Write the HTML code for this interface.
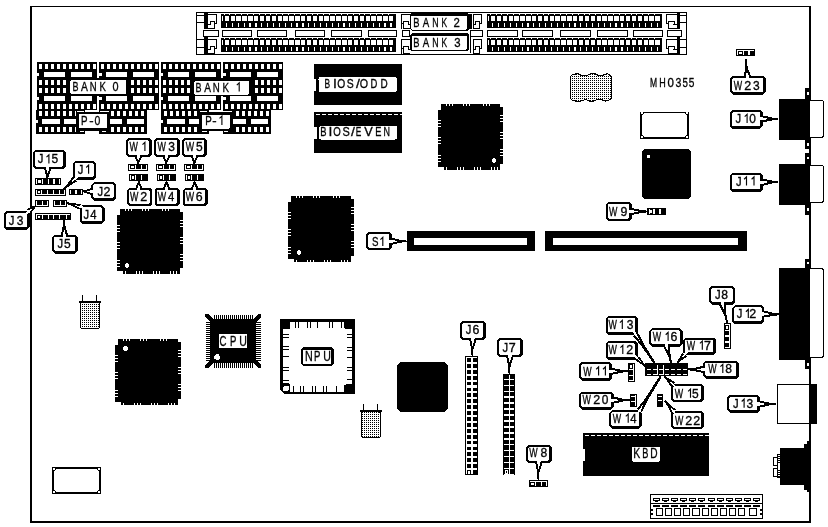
<!DOCTYPE html>
<html><head><meta charset="utf-8"><title>MH0355</title>
<style>
html,body{margin:0;padding:0;background:#fff;}
svg{display:block;font-family:"Liberation Sans",sans-serif;}
</style></head><body>
<svg width="828" height="527" viewBox="0 0 828 527" shape-rendering="crispEdges">
<defs><pattern id="dots" x="0" y="0" width="2" height="2" patternUnits="userSpaceOnUse"><rect x="0" y="0" width="1" height="1" fill="#000"/></pattern></defs>
<rect x="0" y="0" width="828" height="527" fill="#fff"/>
<rect x="30" y="6" width="781" height="1" fill="#000"/>
<rect x="30" y="6" width="2" height="517" fill="#000"/>
<rect x="809" y="6" width="2" height="517" fill="#000"/>
<rect x="30" y="521" width="781" height="2" fill="#000"/>
<rect x="196" y="12" width="491" height="43" fill="#000"/>
<rect x="197" y="13" width="489" height="41" fill="#fff"/>
<rect x="221.2" y="14" width="175.2" height="14" fill="#000"/>
<rect x="222" y="16" width="1" height="5" fill="#fff"/>
<rect x="224.7" y="16" width="4.4" height="5" fill="#fff"/>
<rect x="226" y="23.2" width="1.2" height="3.6" fill="#fff"/>
<rect x="223.5" y="14" width="1" height="1" fill="#fff"/>
<rect x="230.57" y="16" width="4.4" height="5" fill="#fff"/>
<rect x="231.87" y="23.2" width="1.2" height="3.6" fill="#fff"/>
<rect x="229.37" y="14" width="1" height="1" fill="#fff"/>
<rect x="236.44" y="16" width="4.4" height="5" fill="#fff"/>
<rect x="237.74" y="23.2" width="1.2" height="3.6" fill="#fff"/>
<rect x="235.24" y="14" width="1" height="1" fill="#fff"/>
<rect x="242.31" y="16" width="4.4" height="5" fill="#fff"/>
<rect x="243.61" y="23.2" width="1.2" height="3.6" fill="#fff"/>
<rect x="241.11" y="14" width="1" height="1" fill="#fff"/>
<rect x="248.18" y="16" width="4.4" height="5" fill="#fff"/>
<rect x="249.48" y="23.2" width="1.2" height="3.6" fill="#fff"/>
<rect x="246.98" y="14" width="1" height="1" fill="#fff"/>
<rect x="254.05" y="16" width="4.4" height="5" fill="#fff"/>
<rect x="255.35" y="23.2" width="1.2" height="3.6" fill="#fff"/>
<rect x="252.85" y="14" width="1" height="1" fill="#fff"/>
<rect x="259.92" y="16" width="4.4" height="5" fill="#fff"/>
<rect x="261.22" y="23.2" width="1.2" height="3.6" fill="#fff"/>
<rect x="258.72" y="14" width="1" height="1" fill="#fff"/>
<rect x="265.79" y="16" width="4.4" height="5" fill="#fff"/>
<rect x="267.09" y="23.2" width="1.2" height="3.6" fill="#fff"/>
<rect x="264.59" y="14" width="1" height="1" fill="#fff"/>
<rect x="271.66" y="16" width="4.4" height="5" fill="#fff"/>
<rect x="272.96" y="23.2" width="1.2" height="3.6" fill="#fff"/>
<rect x="270.46" y="14" width="1" height="1" fill="#fff"/>
<rect x="277.53" y="16" width="4.4" height="5" fill="#fff"/>
<rect x="278.83" y="23.2" width="1.2" height="3.6" fill="#fff"/>
<rect x="276.33" y="14" width="1" height="1" fill="#fff"/>
<rect x="283.4" y="16" width="4.4" height="5" fill="#fff"/>
<rect x="284.7" y="23.2" width="1.2" height="3.6" fill="#fff"/>
<rect x="282.2" y="14" width="1" height="1" fill="#fff"/>
<rect x="289.27" y="16" width="4.4" height="5" fill="#fff"/>
<rect x="290.57" y="23.2" width="1.2" height="3.6" fill="#fff"/>
<rect x="288.07" y="14" width="1" height="1" fill="#fff"/>
<rect x="295.14" y="16" width="4.4" height="5" fill="#fff"/>
<rect x="296.44" y="23.2" width="1.2" height="3.6" fill="#fff"/>
<rect x="293.94" y="14" width="1" height="1" fill="#fff"/>
<rect x="301.01" y="16" width="4.4" height="5" fill="#fff"/>
<rect x="302.31" y="23.2" width="1.2" height="3.6" fill="#fff"/>
<rect x="299.81" y="14" width="1" height="1" fill="#fff"/>
<rect x="306.88" y="16" width="4.4" height="5" fill="#fff"/>
<rect x="308.18" y="23.2" width="1.2" height="3.6" fill="#fff"/>
<rect x="305.68" y="14" width="1" height="1" fill="#fff"/>
<rect x="312.75" y="16" width="4.4" height="5" fill="#fff"/>
<rect x="314.05" y="23.2" width="1.2" height="3.6" fill="#fff"/>
<rect x="311.55" y="14" width="1" height="1" fill="#fff"/>
<rect x="318.62" y="16" width="4.4" height="5" fill="#fff"/>
<rect x="319.92" y="23.2" width="1.2" height="3.6" fill="#fff"/>
<rect x="317.42" y="14" width="1" height="1" fill="#fff"/>
<rect x="324.49" y="16" width="4.4" height="5" fill="#fff"/>
<rect x="325.79" y="23.2" width="1.2" height="3.6" fill="#fff"/>
<rect x="323.29" y="14" width="1" height="1" fill="#fff"/>
<rect x="330.36" y="16" width="4.4" height="5" fill="#fff"/>
<rect x="331.66" y="23.2" width="1.2" height="3.6" fill="#fff"/>
<rect x="329.16" y="14" width="1" height="1" fill="#fff"/>
<rect x="336.23" y="16" width="4.4" height="5" fill="#fff"/>
<rect x="337.53" y="23.2" width="1.2" height="3.6" fill="#fff"/>
<rect x="335.03" y="14" width="1" height="1" fill="#fff"/>
<rect x="342.1" y="16" width="4.4" height="5" fill="#fff"/>
<rect x="343.4" y="23.2" width="1.2" height="3.6" fill="#fff"/>
<rect x="340.9" y="14" width="1" height="1" fill="#fff"/>
<rect x="347.97" y="16" width="4.4" height="5" fill="#fff"/>
<rect x="349.27" y="23.2" width="1.2" height="3.6" fill="#fff"/>
<rect x="346.77" y="14" width="1" height="1" fill="#fff"/>
<rect x="353.84" y="16" width="4.4" height="5" fill="#fff"/>
<rect x="355.14" y="23.2" width="1.2" height="3.6" fill="#fff"/>
<rect x="352.64" y="14" width="1" height="1" fill="#fff"/>
<rect x="359.71" y="16" width="4.4" height="5" fill="#fff"/>
<rect x="361.01" y="23.2" width="1.2" height="3.6" fill="#fff"/>
<rect x="358.51" y="14" width="1" height="1" fill="#fff"/>
<rect x="365.58" y="16" width="4.4" height="5" fill="#fff"/>
<rect x="366.88" y="23.2" width="1.2" height="3.6" fill="#fff"/>
<rect x="364.38" y="14" width="1" height="1" fill="#fff"/>
<rect x="371.45" y="16" width="4.4" height="5" fill="#fff"/>
<rect x="372.75" y="23.2" width="1.2" height="3.6" fill="#fff"/>
<rect x="370.25" y="14" width="1" height="1" fill="#fff"/>
<rect x="377.32" y="16" width="4.4" height="5" fill="#fff"/>
<rect x="378.62" y="23.2" width="1.2" height="3.6" fill="#fff"/>
<rect x="376.12" y="14" width="1" height="1" fill="#fff"/>
<rect x="383.19" y="16" width="4.4" height="5" fill="#fff"/>
<rect x="384.49" y="23.2" width="1.2" height="3.6" fill="#fff"/>
<rect x="381.99" y="14" width="1" height="1" fill="#fff"/>
<rect x="389.06" y="16" width="4.4" height="5" fill="#fff"/>
<rect x="390.36" y="23.2" width="1.2" height="3.6" fill="#fff"/>
<rect x="387.86" y="14" width="1" height="1" fill="#fff"/>
<rect x="221.2" y="38" width="175.2" height="14" fill="#000"/>
<rect x="222" y="40" width="1" height="5" fill="#fff"/>
<rect x="224.7" y="40" width="4.4" height="5" fill="#fff"/>
<rect x="226" y="47.2" width="1.2" height="3.6" fill="#fff"/>
<rect x="223.5" y="38" width="1" height="1" fill="#fff"/>
<rect x="230.57" y="40" width="4.4" height="5" fill="#fff"/>
<rect x="231.87" y="47.2" width="1.2" height="3.6" fill="#fff"/>
<rect x="229.37" y="38" width="1" height="1" fill="#fff"/>
<rect x="236.44" y="40" width="4.4" height="5" fill="#fff"/>
<rect x="237.74" y="47.2" width="1.2" height="3.6" fill="#fff"/>
<rect x="235.24" y="38" width="1" height="1" fill="#fff"/>
<rect x="242.31" y="40" width="4.4" height="5" fill="#fff"/>
<rect x="243.61" y="47.2" width="1.2" height="3.6" fill="#fff"/>
<rect x="241.11" y="38" width="1" height="1" fill="#fff"/>
<rect x="248.18" y="40" width="4.4" height="5" fill="#fff"/>
<rect x="249.48" y="47.2" width="1.2" height="3.6" fill="#fff"/>
<rect x="246.98" y="38" width="1" height="1" fill="#fff"/>
<rect x="254.05" y="40" width="4.4" height="5" fill="#fff"/>
<rect x="255.35" y="47.2" width="1.2" height="3.6" fill="#fff"/>
<rect x="252.85" y="38" width="1" height="1" fill="#fff"/>
<rect x="259.92" y="40" width="4.4" height="5" fill="#fff"/>
<rect x="261.22" y="47.2" width="1.2" height="3.6" fill="#fff"/>
<rect x="258.72" y="38" width="1" height="1" fill="#fff"/>
<rect x="265.79" y="40" width="4.4" height="5" fill="#fff"/>
<rect x="267.09" y="47.2" width="1.2" height="3.6" fill="#fff"/>
<rect x="264.59" y="38" width="1" height="1" fill="#fff"/>
<rect x="271.66" y="40" width="4.4" height="5" fill="#fff"/>
<rect x="272.96" y="47.2" width="1.2" height="3.6" fill="#fff"/>
<rect x="270.46" y="38" width="1" height="1" fill="#fff"/>
<rect x="277.53" y="40" width="4.4" height="5" fill="#fff"/>
<rect x="278.83" y="47.2" width="1.2" height="3.6" fill="#fff"/>
<rect x="276.33" y="38" width="1" height="1" fill="#fff"/>
<rect x="283.4" y="40" width="4.4" height="5" fill="#fff"/>
<rect x="284.7" y="47.2" width="1.2" height="3.6" fill="#fff"/>
<rect x="282.2" y="38" width="1" height="1" fill="#fff"/>
<rect x="289.27" y="40" width="4.4" height="5" fill="#fff"/>
<rect x="290.57" y="47.2" width="1.2" height="3.6" fill="#fff"/>
<rect x="288.07" y="38" width="1" height="1" fill="#fff"/>
<rect x="295.14" y="40" width="4.4" height="5" fill="#fff"/>
<rect x="296.44" y="47.2" width="1.2" height="3.6" fill="#fff"/>
<rect x="293.94" y="38" width="1" height="1" fill="#fff"/>
<rect x="301.01" y="40" width="4.4" height="5" fill="#fff"/>
<rect x="302.31" y="47.2" width="1.2" height="3.6" fill="#fff"/>
<rect x="299.81" y="38" width="1" height="1" fill="#fff"/>
<rect x="306.88" y="40" width="4.4" height="5" fill="#fff"/>
<rect x="308.18" y="47.2" width="1.2" height="3.6" fill="#fff"/>
<rect x="305.68" y="38" width="1" height="1" fill="#fff"/>
<rect x="312.75" y="40" width="4.4" height="5" fill="#fff"/>
<rect x="314.05" y="47.2" width="1.2" height="3.6" fill="#fff"/>
<rect x="311.55" y="38" width="1" height="1" fill="#fff"/>
<rect x="318.62" y="40" width="4.4" height="5" fill="#fff"/>
<rect x="319.92" y="47.2" width="1.2" height="3.6" fill="#fff"/>
<rect x="317.42" y="38" width="1" height="1" fill="#fff"/>
<rect x="324.49" y="40" width="4.4" height="5" fill="#fff"/>
<rect x="325.79" y="47.2" width="1.2" height="3.6" fill="#fff"/>
<rect x="323.29" y="38" width="1" height="1" fill="#fff"/>
<rect x="330.36" y="40" width="4.4" height="5" fill="#fff"/>
<rect x="331.66" y="47.2" width="1.2" height="3.6" fill="#fff"/>
<rect x="329.16" y="38" width="1" height="1" fill="#fff"/>
<rect x="336.23" y="40" width="4.4" height="5" fill="#fff"/>
<rect x="337.53" y="47.2" width="1.2" height="3.6" fill="#fff"/>
<rect x="335.03" y="38" width="1" height="1" fill="#fff"/>
<rect x="342.1" y="40" width="4.4" height="5" fill="#fff"/>
<rect x="343.4" y="47.2" width="1.2" height="3.6" fill="#fff"/>
<rect x="340.9" y="38" width="1" height="1" fill="#fff"/>
<rect x="347.97" y="40" width="4.4" height="5" fill="#fff"/>
<rect x="349.27" y="47.2" width="1.2" height="3.6" fill="#fff"/>
<rect x="346.77" y="38" width="1" height="1" fill="#fff"/>
<rect x="353.84" y="40" width="4.4" height="5" fill="#fff"/>
<rect x="355.14" y="47.2" width="1.2" height="3.6" fill="#fff"/>
<rect x="352.64" y="38" width="1" height="1" fill="#fff"/>
<rect x="359.71" y="40" width="4.4" height="5" fill="#fff"/>
<rect x="361.01" y="47.2" width="1.2" height="3.6" fill="#fff"/>
<rect x="358.51" y="38" width="1" height="1" fill="#fff"/>
<rect x="365.58" y="40" width="4.4" height="5" fill="#fff"/>
<rect x="366.88" y="47.2" width="1.2" height="3.6" fill="#fff"/>
<rect x="364.38" y="38" width="1" height="1" fill="#fff"/>
<rect x="371.45" y="40" width="4.4" height="5" fill="#fff"/>
<rect x="372.75" y="47.2" width="1.2" height="3.6" fill="#fff"/>
<rect x="370.25" y="38" width="1" height="1" fill="#fff"/>
<rect x="377.32" y="40" width="4.4" height="5" fill="#fff"/>
<rect x="378.62" y="47.2" width="1.2" height="3.6" fill="#fff"/>
<rect x="376.12" y="38" width="1" height="1" fill="#fff"/>
<rect x="383.19" y="40" width="4.4" height="5" fill="#fff"/>
<rect x="384.49" y="47.2" width="1.2" height="3.6" fill="#fff"/>
<rect x="381.99" y="38" width="1" height="1" fill="#fff"/>
<rect x="389.06" y="40" width="4.4" height="5" fill="#fff"/>
<rect x="390.36" y="47.2" width="1.2" height="3.6" fill="#fff"/>
<rect x="387.86" y="38" width="1" height="1" fill="#fff"/>
<rect x="487.4" y="14" width="174.6" height="14" fill="#000"/>
<rect x="488.2" y="16" width="1" height="5" fill="#fff"/>
<rect x="490.9" y="16" width="4.4" height="5" fill="#fff"/>
<rect x="492.2" y="23.2" width="1.2" height="3.6" fill="#fff"/>
<rect x="489.7" y="14" width="1" height="1" fill="#fff"/>
<rect x="496.77" y="16" width="4.4" height="5" fill="#fff"/>
<rect x="498.07" y="23.2" width="1.2" height="3.6" fill="#fff"/>
<rect x="495.57" y="14" width="1" height="1" fill="#fff"/>
<rect x="502.64" y="16" width="4.4" height="5" fill="#fff"/>
<rect x="503.94" y="23.2" width="1.2" height="3.6" fill="#fff"/>
<rect x="501.44" y="14" width="1" height="1" fill="#fff"/>
<rect x="508.51" y="16" width="4.4" height="5" fill="#fff"/>
<rect x="509.81" y="23.2" width="1.2" height="3.6" fill="#fff"/>
<rect x="507.31" y="14" width="1" height="1" fill="#fff"/>
<rect x="514.38" y="16" width="4.4" height="5" fill="#fff"/>
<rect x="515.68" y="23.2" width="1.2" height="3.6" fill="#fff"/>
<rect x="513.18" y="14" width="1" height="1" fill="#fff"/>
<rect x="520.25" y="16" width="4.4" height="5" fill="#fff"/>
<rect x="521.55" y="23.2" width="1.2" height="3.6" fill="#fff"/>
<rect x="519.05" y="14" width="1" height="1" fill="#fff"/>
<rect x="526.12" y="16" width="4.4" height="5" fill="#fff"/>
<rect x="527.42" y="23.2" width="1.2" height="3.6" fill="#fff"/>
<rect x="524.92" y="14" width="1" height="1" fill="#fff"/>
<rect x="531.99" y="16" width="4.4" height="5" fill="#fff"/>
<rect x="533.29" y="23.2" width="1.2" height="3.6" fill="#fff"/>
<rect x="530.79" y="14" width="1" height="1" fill="#fff"/>
<rect x="537.86" y="16" width="4.4" height="5" fill="#fff"/>
<rect x="539.16" y="23.2" width="1.2" height="3.6" fill="#fff"/>
<rect x="536.66" y="14" width="1" height="1" fill="#fff"/>
<rect x="543.73" y="16" width="4.4" height="5" fill="#fff"/>
<rect x="545.03" y="23.2" width="1.2" height="3.6" fill="#fff"/>
<rect x="542.53" y="14" width="1" height="1" fill="#fff"/>
<rect x="549.6" y="16" width="4.4" height="5" fill="#fff"/>
<rect x="550.9" y="23.2" width="1.2" height="3.6" fill="#fff"/>
<rect x="548.4" y="14" width="1" height="1" fill="#fff"/>
<rect x="555.47" y="16" width="4.4" height="5" fill="#fff"/>
<rect x="556.77" y="23.2" width="1.2" height="3.6" fill="#fff"/>
<rect x="554.27" y="14" width="1" height="1" fill="#fff"/>
<rect x="561.34" y="16" width="4.4" height="5" fill="#fff"/>
<rect x="562.64" y="23.2" width="1.2" height="3.6" fill="#fff"/>
<rect x="560.14" y="14" width="1" height="1" fill="#fff"/>
<rect x="567.21" y="16" width="4.4" height="5" fill="#fff"/>
<rect x="568.51" y="23.2" width="1.2" height="3.6" fill="#fff"/>
<rect x="566.01" y="14" width="1" height="1" fill="#fff"/>
<rect x="573.08" y="16" width="4.4" height="5" fill="#fff"/>
<rect x="574.38" y="23.2" width="1.2" height="3.6" fill="#fff"/>
<rect x="571.88" y="14" width="1" height="1" fill="#fff"/>
<rect x="578.95" y="16" width="4.4" height="5" fill="#fff"/>
<rect x="580.25" y="23.2" width="1.2" height="3.6" fill="#fff"/>
<rect x="577.75" y="14" width="1" height="1" fill="#fff"/>
<rect x="584.82" y="16" width="4.4" height="5" fill="#fff"/>
<rect x="586.12" y="23.2" width="1.2" height="3.6" fill="#fff"/>
<rect x="583.62" y="14" width="1" height="1" fill="#fff"/>
<rect x="590.69" y="16" width="4.4" height="5" fill="#fff"/>
<rect x="591.99" y="23.2" width="1.2" height="3.6" fill="#fff"/>
<rect x="589.49" y="14" width="1" height="1" fill="#fff"/>
<rect x="596.56" y="16" width="4.4" height="5" fill="#fff"/>
<rect x="597.86" y="23.2" width="1.2" height="3.6" fill="#fff"/>
<rect x="595.36" y="14" width="1" height="1" fill="#fff"/>
<rect x="602.43" y="16" width="4.4" height="5" fill="#fff"/>
<rect x="603.73" y="23.2" width="1.2" height="3.6" fill="#fff"/>
<rect x="601.23" y="14" width="1" height="1" fill="#fff"/>
<rect x="608.3" y="16" width="4.4" height="5" fill="#fff"/>
<rect x="609.6" y="23.2" width="1.2" height="3.6" fill="#fff"/>
<rect x="607.1" y="14" width="1" height="1" fill="#fff"/>
<rect x="614.17" y="16" width="4.4" height="5" fill="#fff"/>
<rect x="615.47" y="23.2" width="1.2" height="3.6" fill="#fff"/>
<rect x="612.97" y="14" width="1" height="1" fill="#fff"/>
<rect x="620.04" y="16" width="4.4" height="5" fill="#fff"/>
<rect x="621.34" y="23.2" width="1.2" height="3.6" fill="#fff"/>
<rect x="618.84" y="14" width="1" height="1" fill="#fff"/>
<rect x="625.91" y="16" width="4.4" height="5" fill="#fff"/>
<rect x="627.21" y="23.2" width="1.2" height="3.6" fill="#fff"/>
<rect x="624.71" y="14" width="1" height="1" fill="#fff"/>
<rect x="631.78" y="16" width="4.4" height="5" fill="#fff"/>
<rect x="633.08" y="23.2" width="1.2" height="3.6" fill="#fff"/>
<rect x="630.58" y="14" width="1" height="1" fill="#fff"/>
<rect x="637.65" y="16" width="4.4" height="5" fill="#fff"/>
<rect x="638.95" y="23.2" width="1.2" height="3.6" fill="#fff"/>
<rect x="636.45" y="14" width="1" height="1" fill="#fff"/>
<rect x="643.52" y="16" width="4.4" height="5" fill="#fff"/>
<rect x="644.82" y="23.2" width="1.2" height="3.6" fill="#fff"/>
<rect x="642.32" y="14" width="1" height="1" fill="#fff"/>
<rect x="649.39" y="16" width="4.4" height="5" fill="#fff"/>
<rect x="650.69" y="23.2" width="1.2" height="3.6" fill="#fff"/>
<rect x="648.19" y="14" width="1" height="1" fill="#fff"/>
<rect x="655.26" y="16" width="4.4" height="5" fill="#fff"/>
<rect x="656.56" y="23.2" width="1.2" height="3.6" fill="#fff"/>
<rect x="654.06" y="14" width="1" height="1" fill="#fff"/>
<rect x="487.4" y="38" width="174.6" height="14" fill="#000"/>
<rect x="488.2" y="40" width="1" height="5" fill="#fff"/>
<rect x="490.9" y="40" width="4.4" height="5" fill="#fff"/>
<rect x="492.2" y="47.2" width="1.2" height="3.6" fill="#fff"/>
<rect x="489.7" y="38" width="1" height="1" fill="#fff"/>
<rect x="496.77" y="40" width="4.4" height="5" fill="#fff"/>
<rect x="498.07" y="47.2" width="1.2" height="3.6" fill="#fff"/>
<rect x="495.57" y="38" width="1" height="1" fill="#fff"/>
<rect x="502.64" y="40" width="4.4" height="5" fill="#fff"/>
<rect x="503.94" y="47.2" width="1.2" height="3.6" fill="#fff"/>
<rect x="501.44" y="38" width="1" height="1" fill="#fff"/>
<rect x="508.51" y="40" width="4.4" height="5" fill="#fff"/>
<rect x="509.81" y="47.2" width="1.2" height="3.6" fill="#fff"/>
<rect x="507.31" y="38" width="1" height="1" fill="#fff"/>
<rect x="514.38" y="40" width="4.4" height="5" fill="#fff"/>
<rect x="515.68" y="47.2" width="1.2" height="3.6" fill="#fff"/>
<rect x="513.18" y="38" width="1" height="1" fill="#fff"/>
<rect x="520.25" y="40" width="4.4" height="5" fill="#fff"/>
<rect x="521.55" y="47.2" width="1.2" height="3.6" fill="#fff"/>
<rect x="519.05" y="38" width="1" height="1" fill="#fff"/>
<rect x="526.12" y="40" width="4.4" height="5" fill="#fff"/>
<rect x="527.42" y="47.2" width="1.2" height="3.6" fill="#fff"/>
<rect x="524.92" y="38" width="1" height="1" fill="#fff"/>
<rect x="531.99" y="40" width="4.4" height="5" fill="#fff"/>
<rect x="533.29" y="47.2" width="1.2" height="3.6" fill="#fff"/>
<rect x="530.79" y="38" width="1" height="1" fill="#fff"/>
<rect x="537.86" y="40" width="4.4" height="5" fill="#fff"/>
<rect x="539.16" y="47.2" width="1.2" height="3.6" fill="#fff"/>
<rect x="536.66" y="38" width="1" height="1" fill="#fff"/>
<rect x="543.73" y="40" width="4.4" height="5" fill="#fff"/>
<rect x="545.03" y="47.2" width="1.2" height="3.6" fill="#fff"/>
<rect x="542.53" y="38" width="1" height="1" fill="#fff"/>
<rect x="549.6" y="40" width="4.4" height="5" fill="#fff"/>
<rect x="550.9" y="47.2" width="1.2" height="3.6" fill="#fff"/>
<rect x="548.4" y="38" width="1" height="1" fill="#fff"/>
<rect x="555.47" y="40" width="4.4" height="5" fill="#fff"/>
<rect x="556.77" y="47.2" width="1.2" height="3.6" fill="#fff"/>
<rect x="554.27" y="38" width="1" height="1" fill="#fff"/>
<rect x="561.34" y="40" width="4.4" height="5" fill="#fff"/>
<rect x="562.64" y="47.2" width="1.2" height="3.6" fill="#fff"/>
<rect x="560.14" y="38" width="1" height="1" fill="#fff"/>
<rect x="567.21" y="40" width="4.4" height="5" fill="#fff"/>
<rect x="568.51" y="47.2" width="1.2" height="3.6" fill="#fff"/>
<rect x="566.01" y="38" width="1" height="1" fill="#fff"/>
<rect x="573.08" y="40" width="4.4" height="5" fill="#fff"/>
<rect x="574.38" y="47.2" width="1.2" height="3.6" fill="#fff"/>
<rect x="571.88" y="38" width="1" height="1" fill="#fff"/>
<rect x="578.95" y="40" width="4.4" height="5" fill="#fff"/>
<rect x="580.25" y="47.2" width="1.2" height="3.6" fill="#fff"/>
<rect x="577.75" y="38" width="1" height="1" fill="#fff"/>
<rect x="584.82" y="40" width="4.4" height="5" fill="#fff"/>
<rect x="586.12" y="47.2" width="1.2" height="3.6" fill="#fff"/>
<rect x="583.62" y="38" width="1" height="1" fill="#fff"/>
<rect x="590.69" y="40" width="4.4" height="5" fill="#fff"/>
<rect x="591.99" y="47.2" width="1.2" height="3.6" fill="#fff"/>
<rect x="589.49" y="38" width="1" height="1" fill="#fff"/>
<rect x="596.56" y="40" width="4.4" height="5" fill="#fff"/>
<rect x="597.86" y="47.2" width="1.2" height="3.6" fill="#fff"/>
<rect x="595.36" y="38" width="1" height="1" fill="#fff"/>
<rect x="602.43" y="40" width="4.4" height="5" fill="#fff"/>
<rect x="603.73" y="47.2" width="1.2" height="3.6" fill="#fff"/>
<rect x="601.23" y="38" width="1" height="1" fill="#fff"/>
<rect x="608.3" y="40" width="4.4" height="5" fill="#fff"/>
<rect x="609.6" y="47.2" width="1.2" height="3.6" fill="#fff"/>
<rect x="607.1" y="38" width="1" height="1" fill="#fff"/>
<rect x="614.17" y="40" width="4.4" height="5" fill="#fff"/>
<rect x="615.47" y="47.2" width="1.2" height="3.6" fill="#fff"/>
<rect x="612.97" y="38" width="1" height="1" fill="#fff"/>
<rect x="620.04" y="40" width="4.4" height="5" fill="#fff"/>
<rect x="621.34" y="47.2" width="1.2" height="3.6" fill="#fff"/>
<rect x="618.84" y="38" width="1" height="1" fill="#fff"/>
<rect x="625.91" y="40" width="4.4" height="5" fill="#fff"/>
<rect x="627.21" y="47.2" width="1.2" height="3.6" fill="#fff"/>
<rect x="624.71" y="38" width="1" height="1" fill="#fff"/>
<rect x="631.78" y="40" width="4.4" height="5" fill="#fff"/>
<rect x="633.08" y="47.2" width="1.2" height="3.6" fill="#fff"/>
<rect x="630.58" y="38" width="1" height="1" fill="#fff"/>
<rect x="637.65" y="40" width="4.4" height="5" fill="#fff"/>
<rect x="638.95" y="47.2" width="1.2" height="3.6" fill="#fff"/>
<rect x="636.45" y="38" width="1" height="1" fill="#fff"/>
<rect x="643.52" y="40" width="4.4" height="5" fill="#fff"/>
<rect x="644.82" y="47.2" width="1.2" height="3.6" fill="#fff"/>
<rect x="642.32" y="38" width="1" height="1" fill="#fff"/>
<rect x="649.39" y="40" width="4.4" height="5" fill="#fff"/>
<rect x="650.69" y="47.2" width="1.2" height="3.6" fill="#fff"/>
<rect x="648.19" y="38" width="1" height="1" fill="#fff"/>
<rect x="655.26" y="40" width="4.4" height="5" fill="#fff"/>
<rect x="656.56" y="47.2" width="1.2" height="3.6" fill="#fff"/>
<rect x="654.06" y="38" width="1" height="1" fill="#fff"/>
<rect x="222" y="30" width="29.5" height="7" fill="#000"/>
<rect x="223" y="31" width="27.5" height="5" fill="#fff"/>
<rect x="257" y="30" width="30" height="7" fill="#000"/>
<rect x="258" y="31" width="28" height="5" fill="#fff"/>
<rect x="295" y="30" width="29.5" height="7" fill="#000"/>
<rect x="296" y="31" width="27.5" height="5" fill="#fff"/>
<rect x="331" y="30" width="30.5" height="7" fill="#000"/>
<rect x="332" y="31" width="28.5" height="5" fill="#fff"/>
<rect x="368" y="30" width="29" height="7" fill="#000"/>
<rect x="369" y="31" width="27" height="5" fill="#fff"/>
<rect x="487" y="30" width="30.7" height="7" fill="#000"/>
<rect x="488" y="31" width="28.7" height="5" fill="#fff"/>
<rect x="522" y="30" width="30.7" height="7" fill="#000"/>
<rect x="523" y="31" width="28.7" height="5" fill="#fff"/>
<rect x="560.4" y="30" width="30.3" height="7" fill="#000"/>
<rect x="561.4" y="31" width="28.3" height="5" fill="#fff"/>
<rect x="597.4" y="30" width="30.4" height="7" fill="#000"/>
<rect x="598.4" y="31" width="28.4" height="5" fill="#fff"/>
<rect x="633" y="30" width="30.4" height="7" fill="#000"/>
<rect x="634" y="31" width="28.4" height="5" fill="#fff"/>
<rect x="203" y="30" width="15.5" height="7" fill="#000"/>
<rect x="204" y="31" width="13.5" height="5" fill="#fff"/>
<rect x="402" y="30" width="8" height="7" fill="#000"/>
<rect x="403" y="31" width="6" height="5" fill="#fff"/>
<rect x="470" y="30" width="13" height="7" fill="#000"/>
<rect x="471" y="31" width="11" height="5" fill="#fff"/>
<rect x="666.5" y="30" width="15" height="7" fill="#000"/>
<rect x="667.5" y="31" width="13" height="5" fill="#fff"/>
<rect x="197" y="15" width="7" height="1" fill="#000"/>
<rect x="197" y="22" width="7" height="1" fill="#000"/>
<rect x="197" y="39" width="7" height="1" fill="#000"/>
<rect x="197" y="47" width="7" height="1" fill="#000"/>
<rect x="204.3" y="12" width="3.5" height="16.8" fill="#000"/>
<rect x="204.3" y="36.6" width="3.5" height="18" fill="#000"/>
<rect x="207.8" y="14.2" width="9.1" height="1" fill="#000"/>
<rect x="215.9" y="14.2" width="1" height="9.3" fill="#000"/>
<rect x="214.1" y="22.5" width="2.8" height="1" fill="#000"/>
<rect x="209.5" y="20.9" width="5.5" height="1" fill="#000"/>
<rect x="209.5" y="20.9" width="1" height="3.6" fill="#000"/>
<rect x="207.8" y="24.4" width="2.7" height="1" fill="#000"/>
<rect x="214" y="20.9" width="1" height="8" fill="#000"/>
<rect x="207.8" y="27.9" width="7.2" height="1" fill="#000"/>
<rect x="401.2" y="14.2" width="9.1" height="1" fill="#000"/>
<rect x="401.2" y="14.2" width="1" height="9.3" fill="#000"/>
<rect x="401.2" y="22.5" width="2.8" height="1" fill="#000"/>
<rect x="403.1" y="20.9" width="5.5" height="1" fill="#000"/>
<rect x="407.6" y="20.9" width="1" height="3.6" fill="#000"/>
<rect x="407.6" y="24.4" width="2.7" height="1" fill="#000"/>
<rect x="403.1" y="20.9" width="1" height="8" fill="#000"/>
<rect x="403.1" y="27.9" width="7.2" height="1" fill="#000"/>
<rect x="473" y="14.2" width="9.1" height="1" fill="#000"/>
<rect x="481.1" y="14.2" width="1" height="9.3" fill="#000"/>
<rect x="479.3" y="22.5" width="2.8" height="1" fill="#000"/>
<rect x="474.7" y="20.9" width="5.5" height="1" fill="#000"/>
<rect x="474.7" y="20.9" width="1" height="3.6" fill="#000"/>
<rect x="473" y="24.4" width="2.7" height="1" fill="#000"/>
<rect x="479.2" y="20.9" width="1" height="8" fill="#000"/>
<rect x="473" y="27.9" width="7.2" height="1" fill="#000"/>
<rect x="665.78" y="14.2" width="10.92" height="1" fill="#000"/>
<rect x="665.98" y="14.2" width="1" height="9.3" fill="#000"/>
<rect x="665.78" y="22.5" width="3.36" height="1" fill="#000"/>
<rect x="668.06" y="20.9" width="6.6" height="1" fill="#000"/>
<rect x="673.66" y="20.9" width="1" height="3.6" fill="#000"/>
<rect x="673.46" y="24.4" width="3.24" height="1" fill="#000"/>
<rect x="668.26" y="20.9" width="1" height="8" fill="#000"/>
<rect x="668.06" y="27.9" width="8.64" height="1" fill="#000"/>
<rect x="207.8" y="39.2" width="9.1" height="1" fill="#000"/>
<rect x="215.9" y="39.2" width="1" height="9.3" fill="#000"/>
<rect x="214.1" y="47.5" width="2.8" height="1" fill="#000"/>
<rect x="209.5" y="45.9" width="5.5" height="1" fill="#000"/>
<rect x="209.5" y="45.9" width="1" height="3.6" fill="#000"/>
<rect x="207.8" y="49.4" width="2.7" height="1" fill="#000"/>
<rect x="214" y="45.9" width="1" height="8" fill="#000"/>
<rect x="207.8" y="52.9" width="7.2" height="1" fill="#000"/>
<rect x="401.2" y="39.2" width="9.1" height="1" fill="#000"/>
<rect x="401.2" y="39.2" width="1" height="9.3" fill="#000"/>
<rect x="401.2" y="47.5" width="2.8" height="1" fill="#000"/>
<rect x="403.1" y="45.9" width="5.5" height="1" fill="#000"/>
<rect x="407.6" y="45.9" width="1" height="3.6" fill="#000"/>
<rect x="407.6" y="49.4" width="2.7" height="1" fill="#000"/>
<rect x="403.1" y="45.9" width="1" height="8" fill="#000"/>
<rect x="403.1" y="52.9" width="7.2" height="1" fill="#000"/>
<rect x="473" y="39.2" width="9.1" height="1" fill="#000"/>
<rect x="481.1" y="39.2" width="1" height="9.3" fill="#000"/>
<rect x="479.3" y="47.5" width="2.8" height="1" fill="#000"/>
<rect x="474.7" y="45.9" width="5.5" height="1" fill="#000"/>
<rect x="474.7" y="45.9" width="1" height="3.6" fill="#000"/>
<rect x="473" y="49.4" width="2.7" height="1" fill="#000"/>
<rect x="479.2" y="45.9" width="1" height="8" fill="#000"/>
<rect x="473" y="52.9" width="7.2" height="1" fill="#000"/>
<rect x="665.78" y="39.2" width="10.92" height="1" fill="#000"/>
<rect x="665.98" y="39.2" width="1" height="9.3" fill="#000"/>
<rect x="665.78" y="47.5" width="3.36" height="1" fill="#000"/>
<rect x="668.06" y="45.9" width="6.6" height="1" fill="#000"/>
<rect x="673.66" y="45.9" width="1" height="3.6" fill="#000"/>
<rect x="673.46" y="49.4" width="3.24" height="1" fill="#000"/>
<rect x="668.26" y="45.9" width="1" height="8" fill="#000"/>
<rect x="668.06" y="52.9" width="8.64" height="1" fill="#000"/>
<rect x="401.2" y="14.2" width="1" height="14.5" fill="#000"/>
<rect x="401.2" y="39.2" width="1" height="14.5" fill="#000"/>
<rect x="473" y="14.2" width="1" height="14.5" fill="#000"/>
<rect x="473" y="39.2" width="1" height="14.5" fill="#000"/>
<rect x="468.6" y="13.5" width="3.6" height="15.2" fill="#000"/>
<rect x="470" y="36.8" width="1.2" height="16" fill="#000"/>
<rect x="676.7" y="12" width="3.3" height="16.5" fill="#000"/>
<rect x="676.7" y="36.5" width="3.3" height="18" fill="#000"/>
<rect x="680" y="15" width="7" height="1" fill="#000"/>
<rect x="680" y="22" width="7" height="1" fill="#000"/>
<rect x="680" y="39" width="7" height="1" fill="#000"/>
<rect x="680" y="47" width="7" height="1" fill="#000"/>
<polygon points="412,12.4 467.3,12.4 469.3,14.4 469.3,28.8 467.3,30.8 412,30.8 410,28.8 410,14.4" fill="#000"/>
<polygon points="412.3,15.7 465.9,15.7 466.9,16.7 466.9,28.7 465.9,29.7 412.3,29.7 411.3,28.7 411.3,16.7" fill="#fff"/>
<polygon points="412,33.1 467.3,33.1 469.3,35.1 469.3,49.3 467.3,51.3 412,51.3 410,49.3 410,35.1" fill="#000"/>
<polygon points="412.5,35.8 465.9,35.8 466.9,36.8 466.9,48.9 465.9,49.9 412.5,49.9 411.5,48.9 411.5,36.8" fill="#fff"/>
<rect x="37" y="62" width="60" height="24" fill="#000"/>
<rect x="39" y="64" width="3" height="5" fill="#fff"/>
<rect x="39" y="80" width="3" height="5" fill="#fff"/>
<rect x="45" y="64" width="3" height="5" fill="#fff"/>
<rect x="45" y="80" width="3" height="5" fill="#fff"/>
<rect x="51" y="64" width="3" height="5" fill="#fff"/>
<rect x="51" y="80" width="3" height="5" fill="#fff"/>
<rect x="57" y="64" width="3" height="5" fill="#fff"/>
<rect x="57" y="80" width="3" height="5" fill="#fff"/>
<rect x="63" y="64" width="3" height="5" fill="#fff"/>
<rect x="63" y="80" width="3" height="5" fill="#fff"/>
<rect x="69" y="64" width="3" height="5" fill="#fff"/>
<rect x="69" y="80" width="3" height="5" fill="#fff"/>
<rect x="75" y="64" width="3" height="5" fill="#fff"/>
<rect x="75" y="80" width="3" height="5" fill="#fff"/>
<rect x="81" y="64" width="3" height="5" fill="#fff"/>
<rect x="81" y="80" width="3" height="5" fill="#fff"/>
<rect x="87" y="64" width="3" height="5" fill="#fff"/>
<rect x="87" y="80" width="3" height="5" fill="#fff"/>
<rect x="93" y="64" width="3" height="5" fill="#fff"/>
<rect x="93" y="80" width="3" height="5" fill="#fff"/>
<rect x="44" y="72" width="21" height="5" fill="#fff"/>
<rect x="71" y="72" width="21" height="5" fill="#fff"/>
<rect x="37" y="73" width="2" height="3" fill="#fff"/>
<rect x="37" y="86" width="60" height="24" fill="#000"/>
<rect x="39" y="88" width="3" height="5" fill="#fff"/>
<rect x="39" y="104" width="3" height="5" fill="#fff"/>
<rect x="45" y="88" width="3" height="5" fill="#fff"/>
<rect x="45" y="104" width="3" height="5" fill="#fff"/>
<rect x="51" y="88" width="3" height="5" fill="#fff"/>
<rect x="51" y="104" width="3" height="5" fill="#fff"/>
<rect x="57" y="88" width="3" height="5" fill="#fff"/>
<rect x="57" y="104" width="3" height="5" fill="#fff"/>
<rect x="63" y="88" width="3" height="5" fill="#fff"/>
<rect x="63" y="104" width="3" height="5" fill="#fff"/>
<rect x="69" y="88" width="3" height="5" fill="#fff"/>
<rect x="69" y="104" width="3" height="5" fill="#fff"/>
<rect x="75" y="88" width="3" height="5" fill="#fff"/>
<rect x="75" y="104" width="3" height="5" fill="#fff"/>
<rect x="81" y="88" width="3" height="5" fill="#fff"/>
<rect x="81" y="104" width="3" height="5" fill="#fff"/>
<rect x="87" y="88" width="3" height="5" fill="#fff"/>
<rect x="87" y="104" width="3" height="5" fill="#fff"/>
<rect x="93" y="88" width="3" height="5" fill="#fff"/>
<rect x="93" y="104" width="3" height="5" fill="#fff"/>
<rect x="44" y="96" width="21" height="5" fill="#fff"/>
<rect x="71" y="96" width="21" height="5" fill="#fff"/>
<rect x="37" y="97" width="2" height="3" fill="#fff"/>
<rect x="99" y="62" width="60" height="24" fill="#000"/>
<rect x="101" y="64" width="3" height="5" fill="#fff"/>
<rect x="101" y="80" width="3" height="5" fill="#fff"/>
<rect x="107" y="64" width="3" height="5" fill="#fff"/>
<rect x="107" y="80" width="3" height="5" fill="#fff"/>
<rect x="113" y="64" width="3" height="5" fill="#fff"/>
<rect x="113" y="80" width="3" height="5" fill="#fff"/>
<rect x="119" y="64" width="3" height="5" fill="#fff"/>
<rect x="119" y="80" width="3" height="5" fill="#fff"/>
<rect x="125" y="64" width="3" height="5" fill="#fff"/>
<rect x="125" y="80" width="3" height="5" fill="#fff"/>
<rect x="131" y="64" width="3" height="5" fill="#fff"/>
<rect x="131" y="80" width="3" height="5" fill="#fff"/>
<rect x="137" y="64" width="3" height="5" fill="#fff"/>
<rect x="137" y="80" width="3" height="5" fill="#fff"/>
<rect x="143" y="64" width="3" height="5" fill="#fff"/>
<rect x="143" y="80" width="3" height="5" fill="#fff"/>
<rect x="149" y="64" width="3" height="5" fill="#fff"/>
<rect x="149" y="80" width="3" height="5" fill="#fff"/>
<rect x="155" y="64" width="3" height="5" fill="#fff"/>
<rect x="155" y="80" width="3" height="5" fill="#fff"/>
<rect x="106" y="72" width="21" height="5" fill="#fff"/>
<rect x="133" y="72" width="21" height="5" fill="#fff"/>
<rect x="99" y="73" width="2" height="3" fill="#fff"/>
<rect x="99" y="86" width="60" height="24" fill="#000"/>
<rect x="101" y="88" width="3" height="5" fill="#fff"/>
<rect x="101" y="104" width="3" height="5" fill="#fff"/>
<rect x="107" y="88" width="3" height="5" fill="#fff"/>
<rect x="107" y="104" width="3" height="5" fill="#fff"/>
<rect x="113" y="88" width="3" height="5" fill="#fff"/>
<rect x="113" y="104" width="3" height="5" fill="#fff"/>
<rect x="119" y="88" width="3" height="5" fill="#fff"/>
<rect x="119" y="104" width="3" height="5" fill="#fff"/>
<rect x="125" y="88" width="3" height="5" fill="#fff"/>
<rect x="125" y="104" width="3" height="5" fill="#fff"/>
<rect x="131" y="88" width="3" height="5" fill="#fff"/>
<rect x="131" y="104" width="3" height="5" fill="#fff"/>
<rect x="137" y="88" width="3" height="5" fill="#fff"/>
<rect x="137" y="104" width="3" height="5" fill="#fff"/>
<rect x="143" y="88" width="3" height="5" fill="#fff"/>
<rect x="143" y="104" width="3" height="5" fill="#fff"/>
<rect x="149" y="88" width="3" height="5" fill="#fff"/>
<rect x="149" y="104" width="3" height="5" fill="#fff"/>
<rect x="155" y="88" width="3" height="5" fill="#fff"/>
<rect x="155" y="104" width="3" height="5" fill="#fff"/>
<rect x="106" y="96" width="21" height="5" fill="#fff"/>
<rect x="133" y="96" width="21" height="5" fill="#fff"/>
<rect x="99" y="97" width="2" height="3" fill="#fff"/>
<rect x="97" y="78" width="2" height="18" fill="#000"/>
<rect x="99" y="73" width="3" height="3" fill="#fff"/>
<rect x="99" y="97" width="3" height="3" fill="#fff"/>
<rect x="161" y="62" width="60" height="24" fill="#000"/>
<rect x="163" y="64" width="3" height="5" fill="#fff"/>
<rect x="163" y="80" width="3" height="5" fill="#fff"/>
<rect x="169" y="64" width="3" height="5" fill="#fff"/>
<rect x="169" y="80" width="3" height="5" fill="#fff"/>
<rect x="175" y="64" width="3" height="5" fill="#fff"/>
<rect x="175" y="80" width="3" height="5" fill="#fff"/>
<rect x="181" y="64" width="3" height="5" fill="#fff"/>
<rect x="181" y="80" width="3" height="5" fill="#fff"/>
<rect x="187" y="64" width="3" height="5" fill="#fff"/>
<rect x="187" y="80" width="3" height="5" fill="#fff"/>
<rect x="193" y="64" width="3" height="5" fill="#fff"/>
<rect x="193" y="80" width="3" height="5" fill="#fff"/>
<rect x="199" y="64" width="3" height="5" fill="#fff"/>
<rect x="199" y="80" width="3" height="5" fill="#fff"/>
<rect x="205" y="64" width="3" height="5" fill="#fff"/>
<rect x="205" y="80" width="3" height="5" fill="#fff"/>
<rect x="211" y="64" width="3" height="5" fill="#fff"/>
<rect x="211" y="80" width="3" height="5" fill="#fff"/>
<rect x="217" y="64" width="3" height="5" fill="#fff"/>
<rect x="217" y="80" width="3" height="5" fill="#fff"/>
<rect x="168" y="72" width="21" height="5" fill="#fff"/>
<rect x="195" y="72" width="21" height="5" fill="#fff"/>
<rect x="161" y="73" width="2" height="3" fill="#fff"/>
<rect x="161" y="86" width="60" height="24" fill="#000"/>
<rect x="163" y="88" width="3" height="5" fill="#fff"/>
<rect x="163" y="104" width="3" height="5" fill="#fff"/>
<rect x="169" y="88" width="3" height="5" fill="#fff"/>
<rect x="169" y="104" width="3" height="5" fill="#fff"/>
<rect x="175" y="88" width="3" height="5" fill="#fff"/>
<rect x="175" y="104" width="3" height="5" fill="#fff"/>
<rect x="181" y="88" width="3" height="5" fill="#fff"/>
<rect x="181" y="104" width="3" height="5" fill="#fff"/>
<rect x="187" y="88" width="3" height="5" fill="#fff"/>
<rect x="187" y="104" width="3" height="5" fill="#fff"/>
<rect x="193" y="88" width="3" height="5" fill="#fff"/>
<rect x="193" y="104" width="3" height="5" fill="#fff"/>
<rect x="199" y="88" width="3" height="5" fill="#fff"/>
<rect x="199" y="104" width="3" height="5" fill="#fff"/>
<rect x="205" y="88" width="3" height="5" fill="#fff"/>
<rect x="205" y="104" width="3" height="5" fill="#fff"/>
<rect x="211" y="88" width="3" height="5" fill="#fff"/>
<rect x="211" y="104" width="3" height="5" fill="#fff"/>
<rect x="217" y="88" width="3" height="5" fill="#fff"/>
<rect x="217" y="104" width="3" height="5" fill="#fff"/>
<rect x="168" y="96" width="21" height="5" fill="#fff"/>
<rect x="195" y="96" width="21" height="5" fill="#fff"/>
<rect x="161" y="97" width="2" height="3" fill="#fff"/>
<rect x="223" y="62" width="60" height="24" fill="#000"/>
<rect x="225" y="64" width="3" height="5" fill="#fff"/>
<rect x="225" y="80" width="3" height="5" fill="#fff"/>
<rect x="231" y="64" width="3" height="5" fill="#fff"/>
<rect x="231" y="80" width="3" height="5" fill="#fff"/>
<rect x="237" y="64" width="3" height="5" fill="#fff"/>
<rect x="237" y="80" width="3" height="5" fill="#fff"/>
<rect x="243" y="64" width="3" height="5" fill="#fff"/>
<rect x="243" y="80" width="3" height="5" fill="#fff"/>
<rect x="249" y="64" width="3" height="5" fill="#fff"/>
<rect x="249" y="80" width="3" height="5" fill="#fff"/>
<rect x="255" y="64" width="3" height="5" fill="#fff"/>
<rect x="255" y="80" width="3" height="5" fill="#fff"/>
<rect x="261" y="64" width="3" height="5" fill="#fff"/>
<rect x="261" y="80" width="3" height="5" fill="#fff"/>
<rect x="267" y="64" width="3" height="5" fill="#fff"/>
<rect x="267" y="80" width="3" height="5" fill="#fff"/>
<rect x="273" y="64" width="3" height="5" fill="#fff"/>
<rect x="273" y="80" width="3" height="5" fill="#fff"/>
<rect x="279" y="64" width="3" height="5" fill="#fff"/>
<rect x="279" y="80" width="3" height="5" fill="#fff"/>
<rect x="230" y="72" width="21" height="5" fill="#fff"/>
<rect x="257" y="72" width="21" height="5" fill="#fff"/>
<rect x="223" y="73" width="2" height="3" fill="#fff"/>
<rect x="223" y="86" width="60" height="24" fill="#000"/>
<rect x="225" y="88" width="3" height="5" fill="#fff"/>
<rect x="225" y="104" width="3" height="5" fill="#fff"/>
<rect x="231" y="88" width="3" height="5" fill="#fff"/>
<rect x="231" y="104" width="3" height="5" fill="#fff"/>
<rect x="237" y="88" width="3" height="5" fill="#fff"/>
<rect x="237" y="104" width="3" height="5" fill="#fff"/>
<rect x="243" y="88" width="3" height="5" fill="#fff"/>
<rect x="243" y="104" width="3" height="5" fill="#fff"/>
<rect x="249" y="88" width="3" height="5" fill="#fff"/>
<rect x="249" y="104" width="3" height="5" fill="#fff"/>
<rect x="255" y="88" width="3" height="5" fill="#fff"/>
<rect x="255" y="104" width="3" height="5" fill="#fff"/>
<rect x="261" y="88" width="3" height="5" fill="#fff"/>
<rect x="261" y="104" width="3" height="5" fill="#fff"/>
<rect x="267" y="88" width="3" height="5" fill="#fff"/>
<rect x="267" y="104" width="3" height="5" fill="#fff"/>
<rect x="273" y="88" width="3" height="5" fill="#fff"/>
<rect x="273" y="104" width="3" height="5" fill="#fff"/>
<rect x="279" y="88" width="3" height="5" fill="#fff"/>
<rect x="279" y="104" width="3" height="5" fill="#fff"/>
<rect x="230" y="96" width="21" height="5" fill="#fff"/>
<rect x="257" y="96" width="21" height="5" fill="#fff"/>
<rect x="223" y="97" width="2" height="3" fill="#fff"/>
<rect x="221" y="78" width="2" height="18" fill="#000"/>
<rect x="223" y="73" width="3" height="3" fill="#fff"/>
<rect x="223" y="97" width="3" height="3" fill="#fff"/>
<rect x="36" y="110" width="111" height="24" fill="#000"/>
<rect x="39" y="111" width="3" height="5" fill="#fff"/>
<rect x="39" y="127" width="3" height="5" fill="#fff"/>
<rect x="45" y="111" width="3" height="5" fill="#fff"/>
<rect x="45" y="127" width="3" height="5" fill="#fff"/>
<rect x="51" y="111" width="3" height="5" fill="#fff"/>
<rect x="51" y="127" width="3" height="5" fill="#fff"/>
<rect x="57" y="111" width="3" height="5" fill="#fff"/>
<rect x="57" y="127" width="3" height="5" fill="#fff"/>
<rect x="63" y="111" width="3" height="5" fill="#fff"/>
<rect x="63" y="127" width="3" height="5" fill="#fff"/>
<rect x="69" y="111" width="3" height="5" fill="#fff"/>
<rect x="69" y="127" width="3" height="5" fill="#fff"/>
<rect x="75" y="111" width="3" height="5" fill="#fff"/>
<rect x="75" y="127" width="3" height="5" fill="#fff"/>
<rect x="81" y="111" width="3" height="5" fill="#fff"/>
<rect x="81" y="127" width="3" height="5" fill="#fff"/>
<rect x="87" y="111" width="3" height="5" fill="#fff"/>
<rect x="87" y="127" width="3" height="5" fill="#fff"/>
<rect x="93" y="111" width="3" height="5" fill="#fff"/>
<rect x="93" y="127" width="3" height="5" fill="#fff"/>
<rect x="99" y="111" width="3" height="5" fill="#fff"/>
<rect x="99" y="127" width="3" height="5" fill="#fff"/>
<rect x="105" y="111" width="3" height="5" fill="#fff"/>
<rect x="105" y="127" width="3" height="5" fill="#fff"/>
<rect x="111" y="111" width="3" height="5" fill="#fff"/>
<rect x="111" y="127" width="3" height="5" fill="#fff"/>
<rect x="117" y="111" width="3" height="5" fill="#fff"/>
<rect x="117" y="127" width="3" height="5" fill="#fff"/>
<rect x="123" y="111" width="3" height="5" fill="#fff"/>
<rect x="123" y="127" width="3" height="5" fill="#fff"/>
<rect x="129" y="111" width="3" height="5" fill="#fff"/>
<rect x="129" y="127" width="3" height="5" fill="#fff"/>
<rect x="135" y="111" width="3" height="5" fill="#fff"/>
<rect x="135" y="127" width="3" height="5" fill="#fff"/>
<rect x="141" y="111" width="3" height="5" fill="#fff"/>
<rect x="141" y="127" width="3" height="5" fill="#fff"/>
<rect x="42" y="119" width="18" height="5" fill="#fff"/>
<rect x="64" y="119" width="13" height="5" fill="#fff"/>
<rect x="109.5" y="119" width="12.5" height="5" fill="#fff"/>
<rect x="126.5" y="119" width="17" height="5" fill="#fff"/>
<rect x="36" y="120" width="2" height="3" fill="#fff"/>
<rect x="161" y="110" width="110" height="24" fill="#000"/>
<rect x="164" y="111" width="3" height="5" fill="#fff"/>
<rect x="164" y="127" width="3" height="5" fill="#fff"/>
<rect x="170" y="111" width="3" height="5" fill="#fff"/>
<rect x="170" y="127" width="3" height="5" fill="#fff"/>
<rect x="176" y="111" width="3" height="5" fill="#fff"/>
<rect x="176" y="127" width="3" height="5" fill="#fff"/>
<rect x="182" y="111" width="3" height="5" fill="#fff"/>
<rect x="182" y="127" width="3" height="5" fill="#fff"/>
<rect x="188" y="111" width="3" height="5" fill="#fff"/>
<rect x="188" y="127" width="3" height="5" fill="#fff"/>
<rect x="194" y="111" width="3" height="5" fill="#fff"/>
<rect x="194" y="127" width="3" height="5" fill="#fff"/>
<rect x="200" y="111" width="3" height="5" fill="#fff"/>
<rect x="200" y="127" width="3" height="5" fill="#fff"/>
<rect x="206" y="111" width="3" height="5" fill="#fff"/>
<rect x="206" y="127" width="3" height="5" fill="#fff"/>
<rect x="212" y="111" width="3" height="5" fill="#fff"/>
<rect x="212" y="127" width="3" height="5" fill="#fff"/>
<rect x="218" y="111" width="3" height="5" fill="#fff"/>
<rect x="218" y="127" width="3" height="5" fill="#fff"/>
<rect x="224" y="111" width="3" height="5" fill="#fff"/>
<rect x="224" y="127" width="3" height="5" fill="#fff"/>
<rect x="230" y="111" width="3" height="5" fill="#fff"/>
<rect x="230" y="127" width="3" height="5" fill="#fff"/>
<rect x="236" y="111" width="3" height="5" fill="#fff"/>
<rect x="236" y="127" width="3" height="5" fill="#fff"/>
<rect x="242" y="111" width="3" height="5" fill="#fff"/>
<rect x="242" y="127" width="3" height="5" fill="#fff"/>
<rect x="248" y="111" width="3" height="5" fill="#fff"/>
<rect x="248" y="127" width="3" height="5" fill="#fff"/>
<rect x="254" y="111" width="3" height="5" fill="#fff"/>
<rect x="254" y="127" width="3" height="5" fill="#fff"/>
<rect x="260" y="111" width="3" height="5" fill="#fff"/>
<rect x="260" y="127" width="3" height="5" fill="#fff"/>
<rect x="266" y="111" width="3" height="5" fill="#fff"/>
<rect x="266" y="127" width="3" height="5" fill="#fff"/>
<rect x="167" y="119" width="18" height="5" fill="#fff"/>
<rect x="189" y="119" width="11" height="5" fill="#fff"/>
<rect x="232" y="119" width="14" height="5" fill="#fff"/>
<rect x="250.5" y="119" width="17" height="5" fill="#fff"/>
<rect x="161" y="120" width="2" height="3" fill="#fff"/>
<rect x="67" y="79" width="62" height="17" fill="#000"/>
<rect x="191" y="79" width="63" height="17" fill="#000"/>
<polygon points="71,80 125,80 126,81 126,93 125,94 71,94 70,93 70,81" fill="#fff"/>
<polygon points="195,81 248.2,81 249.2,82 249.2,93.8 248.2,94.8 195,94.8 194,93.8 194,82" fill="#fff"/>
<rect x="76" y="110.5" width="34" height="23.5" fill="#000"/>
<rect x="77" y="110.5" width="7" height="1.5" fill="#fff"/>
<rect x="100" y="110.5" width="9" height="1.5" fill="#fff"/>
<polygon points="79,112.3 106.8,112.3 108.8,114.3 108.8,128.6 106.8,130.6 79,130.6 77,128.6 77,114.3" fill="#000"/>
<polygon points="79.8,114 106.3,114 107.3,115 107.3,127 106.3,128 79.8,128 78.8,127 78.8,115" fill="#fff"/>
<rect x="85" y="131" width="14" height="3.2" fill="#fff"/>
<rect x="85" y="110.3" width="13.8" height="1.6" fill="#fff"/>
<rect x="96.7" y="96" width="2" height="15.5" fill="#fff"/>
<rect x="79.5" y="131" width="4.5" height="1" fill="#fff"/>
<rect x="101.5" y="131" width="4" height="1" fill="#fff"/>
<rect x="198.9" y="110.5" width="34" height="23.5" fill="#000"/>
<rect x="199.9" y="110.5" width="7" height="1.5" fill="#fff"/>
<rect x="222.9" y="110.5" width="9" height="1.5" fill="#fff"/>
<polygon points="201.9,112.3 229.7,112.3 231.7,114.3 231.7,128.6 229.7,130.6 201.9,130.6 199.9,128.6 199.9,114.3" fill="#000"/>
<polygon points="202.7,114.8 229.2,114.8 230.2,115.8 230.2,127.8 229.2,128.8 202.7,128.8 201.7,127.8 201.7,115.8" fill="#fff"/>
<rect x="209.1" y="131" width="14" height="3.2" fill="#fff"/>
<rect x="209.1" y="110.3" width="13.8" height="1.6" fill="#fff"/>
<rect x="220.9" y="96" width="2" height="15.5" fill="#fff"/>
<rect x="202.4" y="131" width="4.5" height="1" fill="#fff"/>
<rect x="224.4" y="131" width="4" height="1" fill="#fff"/>
<rect x="314" y="64" width="88" height="41" fill="#000"/>
<rect x="318.5" y="77" width="78.5" height="15" rx="2.5" fill="#fff"/>
<rect x="314" y="79" width="2" height="11.5" fill="#fff"/>
<rect x="314" y="112" width="88" height="41" fill="#000"/>
<rect x="316" y="114" width="3.5" height="1" fill="#fff"/>
<rect x="322" y="114" width="3.5" height="1" fill="#fff"/>
<rect x="328" y="114" width="3.5" height="1" fill="#fff"/>
<rect x="334" y="114" width="3.5" height="1" fill="#fff"/>
<rect x="340" y="114" width="3.5" height="1" fill="#fff"/>
<rect x="346" y="114" width="3.5" height="1" fill="#fff"/>
<rect x="352" y="114" width="3.5" height="1" fill="#fff"/>
<rect x="358" y="114" width="3.5" height="1" fill="#fff"/>
<rect x="364" y="114" width="3.5" height="1" fill="#fff"/>
<rect x="370" y="114" width="3.5" height="1" fill="#fff"/>
<rect x="376" y="114" width="3.5" height="1" fill="#fff"/>
<rect x="382" y="114" width="3.5" height="1" fill="#fff"/>
<rect x="388" y="114" width="3.5" height="1" fill="#fff"/>
<rect x="394" y="114" width="3.5" height="1" fill="#fff"/>
<rect x="400" y="114" width="3.5" height="1" fill="#fff"/>
<rect x="319" y="126" width="78" height="13.5" rx="2" fill="#fff"/>
<rect x="314" y="127" width="2.5" height="12" fill="#fff"/>
<rect x="117" y="209" width="66" height="64.5" fill="#000"/>
<rect x="117" y="209" width="3" height="6" fill="#fff"/>
<rect x="180" y="209" width="3" height="3" fill="#fff"/>
<rect x="180" y="267.5" width="3" height="6" fill="#fff"/>
<rect x="117" y="270.5" width="6" height="3" fill="#fff"/>
<rect x="125" y="209" width="1" height="2.3" fill="#fff"/>
<rect x="128" y="209" width="1" height="2.3" fill="#fff"/>
<rect x="131" y="209" width="1" height="2.3" fill="#fff"/>
<rect x="142" y="209" width="1" height="2.3" fill="#fff"/>
<rect x="145" y="209" width="1" height="2.3" fill="#fff"/>
<rect x="148" y="209" width="1" height="2.3" fill="#fff"/>
<rect x="162" y="209" width="1" height="2.3" fill="#fff"/>
<rect x="165" y="209" width="1" height="2.3" fill="#fff"/>
<rect x="168" y="209" width="1" height="2.3" fill="#fff"/>
<rect x="136" y="271.2" width="1" height="2.3" fill="#fff"/>
<rect x="139" y="271.2" width="1" height="2.3" fill="#fff"/>
<rect x="142" y="271.2" width="1" height="2.3" fill="#fff"/>
<rect x="153" y="271.2" width="1" height="2.3" fill="#fff"/>
<rect x="156" y="271.2" width="1" height="2.3" fill="#fff"/>
<rect x="159" y="271.2" width="1" height="2.3" fill="#fff"/>
<rect x="170" y="271.2" width="1" height="2.3" fill="#fff"/>
<rect x="173" y="271.2" width="1" height="2.3" fill="#fff"/>
<rect x="176" y="271.2" width="1" height="2.3" fill="#fff"/>
<rect x="125" y="271.2" width="1" height="2.3" fill="#fff"/>
<rect x="117" y="225" width="3" height="1" fill="#fff"/>
<rect x="117" y="228" width="3" height="1" fill="#fff"/>
<rect x="117" y="231" width="3" height="1" fill="#fff"/>
<rect x="117" y="242" width="3" height="1" fill="#fff"/>
<rect x="117" y="245" width="3" height="1" fill="#fff"/>
<rect x="117" y="248" width="3" height="1" fill="#fff"/>
<rect x="117" y="260" width="3" height="1" fill="#fff"/>
<rect x="117" y="263" width="3" height="1" fill="#fff"/>
<rect x="117" y="266" width="3" height="1" fill="#fff"/>
<rect x="180" y="220" width="3" height="1" fill="#fff"/>
<rect x="180" y="223" width="3" height="1" fill="#fff"/>
<rect x="180" y="226" width="3" height="1" fill="#fff"/>
<rect x="180" y="237" width="3" height="1" fill="#fff"/>
<rect x="180" y="240" width="3" height="1" fill="#fff"/>
<rect x="180" y="243" width="3" height="1" fill="#fff"/>
<rect x="180" y="254" width="3" height="1" fill="#fff"/>
<rect x="180" y="257" width="3" height="1" fill="#fff"/>
<rect x="180" y="260" width="3" height="1" fill="#fff"/>
<rect x="125.5" y="263" width="2.5" height="4.5" fill="#fff"/>
<rect x="124.5" y="264" width="4.5" height="2.5" fill="#fff"/>
<rect x="288" y="196" width="66" height="66" fill="#000"/>
<rect x="288" y="196" width="3" height="6" fill="#fff"/>
<rect x="351" y="196" width="3" height="3" fill="#fff"/>
<rect x="351" y="256" width="3" height="6" fill="#fff"/>
<rect x="288" y="259" width="6" height="3" fill="#fff"/>
<rect x="296" y="196" width="1" height="2.3" fill="#fff"/>
<rect x="299" y="196" width="1" height="2.3" fill="#fff"/>
<rect x="302" y="196" width="1" height="2.3" fill="#fff"/>
<rect x="313" y="196" width="1" height="2.3" fill="#fff"/>
<rect x="316" y="196" width="1" height="2.3" fill="#fff"/>
<rect x="319" y="196" width="1" height="2.3" fill="#fff"/>
<rect x="333" y="196" width="1" height="2.3" fill="#fff"/>
<rect x="336" y="196" width="1" height="2.3" fill="#fff"/>
<rect x="339" y="196" width="1" height="2.3" fill="#fff"/>
<rect x="307" y="259.7" width="1" height="2.3" fill="#fff"/>
<rect x="310" y="259.7" width="1" height="2.3" fill="#fff"/>
<rect x="313" y="259.7" width="1" height="2.3" fill="#fff"/>
<rect x="324" y="259.7" width="1" height="2.3" fill="#fff"/>
<rect x="327" y="259.7" width="1" height="2.3" fill="#fff"/>
<rect x="330" y="259.7" width="1" height="2.3" fill="#fff"/>
<rect x="341" y="259.7" width="1" height="2.3" fill="#fff"/>
<rect x="344" y="259.7" width="1" height="2.3" fill="#fff"/>
<rect x="347" y="259.7" width="1" height="2.3" fill="#fff"/>
<rect x="296" y="259.7" width="1" height="2.3" fill="#fff"/>
<rect x="288" y="212" width="3" height="1" fill="#fff"/>
<rect x="288" y="215" width="3" height="1" fill="#fff"/>
<rect x="288" y="218" width="3" height="1" fill="#fff"/>
<rect x="288" y="229" width="3" height="1" fill="#fff"/>
<rect x="288" y="232" width="3" height="1" fill="#fff"/>
<rect x="288" y="235" width="3" height="1" fill="#fff"/>
<rect x="288" y="247" width="3" height="1" fill="#fff"/>
<rect x="288" y="250" width="3" height="1" fill="#fff"/>
<rect x="288" y="253" width="3" height="1" fill="#fff"/>
<rect x="351" y="207" width="3" height="1" fill="#fff"/>
<rect x="351" y="210" width="3" height="1" fill="#fff"/>
<rect x="351" y="213" width="3" height="1" fill="#fff"/>
<rect x="351" y="224" width="3" height="1" fill="#fff"/>
<rect x="351" y="227" width="3" height="1" fill="#fff"/>
<rect x="351" y="230" width="3" height="1" fill="#fff"/>
<rect x="351" y="241" width="3" height="1" fill="#fff"/>
<rect x="351" y="244" width="3" height="1" fill="#fff"/>
<rect x="351" y="247" width="3" height="1" fill="#fff"/>
<rect x="297.5" y="250.3" width="2.5" height="4.5" fill="#fff"/>
<rect x="296.5" y="251.3" width="4.5" height="2.5" fill="#fff"/>
<rect x="438" y="104" width="65" height="65.5" fill="#000"/>
<rect x="438" y="104" width="3" height="6" fill="#fff"/>
<rect x="500" y="104" width="3" height="3" fill="#fff"/>
<rect x="500" y="163.5" width="3" height="6" fill="#fff"/>
<rect x="438" y="166.5" width="6" height="3" fill="#fff"/>
<rect x="446" y="104" width="1" height="2.3" fill="#fff"/>
<rect x="449" y="104" width="1" height="2.3" fill="#fff"/>
<rect x="452" y="104" width="1" height="2.3" fill="#fff"/>
<rect x="463" y="104" width="1" height="2.3" fill="#fff"/>
<rect x="466" y="104" width="1" height="2.3" fill="#fff"/>
<rect x="469" y="104" width="1" height="2.3" fill="#fff"/>
<rect x="483" y="104" width="1" height="2.3" fill="#fff"/>
<rect x="486" y="104" width="1" height="2.3" fill="#fff"/>
<rect x="489" y="104" width="1" height="2.3" fill="#fff"/>
<rect x="457" y="167.2" width="1" height="2.3" fill="#fff"/>
<rect x="460" y="167.2" width="1" height="2.3" fill="#fff"/>
<rect x="463" y="167.2" width="1" height="2.3" fill="#fff"/>
<rect x="474" y="167.2" width="1" height="2.3" fill="#fff"/>
<rect x="477" y="167.2" width="1" height="2.3" fill="#fff"/>
<rect x="480" y="167.2" width="1" height="2.3" fill="#fff"/>
<rect x="491" y="167.2" width="1" height="2.3" fill="#fff"/>
<rect x="494" y="167.2" width="1" height="2.3" fill="#fff"/>
<rect x="497" y="167.2" width="1" height="2.3" fill="#fff"/>
<rect x="446" y="167.2" width="1" height="2.3" fill="#fff"/>
<rect x="438" y="120" width="3" height="1" fill="#fff"/>
<rect x="438" y="123" width="3" height="1" fill="#fff"/>
<rect x="438" y="126" width="3" height="1" fill="#fff"/>
<rect x="438" y="137" width="3" height="1" fill="#fff"/>
<rect x="438" y="140" width="3" height="1" fill="#fff"/>
<rect x="438" y="143" width="3" height="1" fill="#fff"/>
<rect x="438" y="155" width="3" height="1" fill="#fff"/>
<rect x="438" y="158" width="3" height="1" fill="#fff"/>
<rect x="438" y="161" width="3" height="1" fill="#fff"/>
<rect x="500" y="115" width="3" height="1" fill="#fff"/>
<rect x="500" y="118" width="3" height="1" fill="#fff"/>
<rect x="500" y="121" width="3" height="1" fill="#fff"/>
<rect x="500" y="132" width="3" height="1" fill="#fff"/>
<rect x="500" y="135" width="3" height="1" fill="#fff"/>
<rect x="500" y="138" width="3" height="1" fill="#fff"/>
<rect x="500" y="149" width="3" height="1" fill="#fff"/>
<rect x="500" y="152" width="3" height="1" fill="#fff"/>
<rect x="500" y="155" width="3" height="1" fill="#fff"/>
<rect x="492.5" y="158" width="2.5" height="4.5" fill="#fff"/>
<rect x="491.5" y="159" width="4.5" height="2.5" fill="#fff"/>
<rect x="115" y="339" width="66" height="66" fill="#000"/>
<rect x="115" y="339" width="3" height="6" fill="#fff"/>
<rect x="178" y="339" width="3" height="3" fill="#fff"/>
<rect x="178" y="399" width="3" height="6" fill="#fff"/>
<rect x="115" y="402" width="6" height="3" fill="#fff"/>
<rect x="123" y="339" width="1" height="2.3" fill="#fff"/>
<rect x="126" y="339" width="1" height="2.3" fill="#fff"/>
<rect x="129" y="339" width="1" height="2.3" fill="#fff"/>
<rect x="140" y="339" width="1" height="2.3" fill="#fff"/>
<rect x="143" y="339" width="1" height="2.3" fill="#fff"/>
<rect x="146" y="339" width="1" height="2.3" fill="#fff"/>
<rect x="160" y="339" width="1" height="2.3" fill="#fff"/>
<rect x="163" y="339" width="1" height="2.3" fill="#fff"/>
<rect x="166" y="339" width="1" height="2.3" fill="#fff"/>
<rect x="134" y="402.7" width="1" height="2.3" fill="#fff"/>
<rect x="137" y="402.7" width="1" height="2.3" fill="#fff"/>
<rect x="140" y="402.7" width="1" height="2.3" fill="#fff"/>
<rect x="151" y="402.7" width="1" height="2.3" fill="#fff"/>
<rect x="154" y="402.7" width="1" height="2.3" fill="#fff"/>
<rect x="157" y="402.7" width="1" height="2.3" fill="#fff"/>
<rect x="168" y="402.7" width="1" height="2.3" fill="#fff"/>
<rect x="171" y="402.7" width="1" height="2.3" fill="#fff"/>
<rect x="174" y="402.7" width="1" height="2.3" fill="#fff"/>
<rect x="123" y="402.7" width="1" height="2.3" fill="#fff"/>
<rect x="115" y="355" width="3" height="1" fill="#fff"/>
<rect x="115" y="358" width="3" height="1" fill="#fff"/>
<rect x="115" y="361" width="3" height="1" fill="#fff"/>
<rect x="115" y="372" width="3" height="1" fill="#fff"/>
<rect x="115" y="375" width="3" height="1" fill="#fff"/>
<rect x="115" y="378" width="3" height="1" fill="#fff"/>
<rect x="115" y="390" width="3" height="1" fill="#fff"/>
<rect x="115" y="393" width="3" height="1" fill="#fff"/>
<rect x="115" y="396" width="3" height="1" fill="#fff"/>
<rect x="178" y="350" width="3" height="1" fill="#fff"/>
<rect x="178" y="353" width="3" height="1" fill="#fff"/>
<rect x="178" y="356" width="3" height="1" fill="#fff"/>
<rect x="178" y="367" width="3" height="1" fill="#fff"/>
<rect x="178" y="370" width="3" height="1" fill="#fff"/>
<rect x="178" y="373" width="3" height="1" fill="#fff"/>
<rect x="178" y="384" width="3" height="1" fill="#fff"/>
<rect x="178" y="387" width="3" height="1" fill="#fff"/>
<rect x="178" y="390" width="3" height="1" fill="#fff"/>
<rect x="124" y="346" width="2.5" height="4.5" fill="#fff"/>
<rect x="123" y="347" width="4.5" height="2.5" fill="#fff"/>
<polygon points="400,362 444.5,362 447.5,365 447.5,409 444.5,412 400,412 397,409 397,365" fill="#000"/>
<polygon points="644.5,149 688,149 691,152 691,196 688,199 644.5,199 641.5,196 641.5,152" fill="#000"/>
<rect x="646.7" y="154.8" width="3.5" height="3.5" rx="1.2" fill="#fff"/>
<rect x="210" y="319" width="46" height="44" fill="#000"/>
<rect x="213.5" y="315" width="1" height="4" fill="#000"/>
<rect x="213.5" y="363" width="1" height="4.5" fill="#000"/>
<rect x="215.5" y="315" width="1" height="4" fill="#000"/>
<rect x="215.5" y="363" width="1" height="4.5" fill="#000"/>
<rect x="217.5" y="315" width="1" height="4" fill="#000"/>
<rect x="217.5" y="363" width="1" height="4.5" fill="#000"/>
<rect x="219.5" y="315" width="1" height="4" fill="#000"/>
<rect x="219.5" y="363" width="1" height="4.5" fill="#000"/>
<rect x="221.5" y="315" width="1" height="4" fill="#000"/>
<rect x="221.5" y="363" width="1" height="4.5" fill="#000"/>
<rect x="223.5" y="315" width="1" height="4" fill="#000"/>
<rect x="223.5" y="363" width="1" height="4.5" fill="#000"/>
<rect x="225.5" y="315" width="1" height="4" fill="#000"/>
<rect x="225.5" y="363" width="1" height="4.5" fill="#000"/>
<rect x="227.5" y="315" width="1" height="4" fill="#000"/>
<rect x="227.5" y="363" width="1" height="4.5" fill="#000"/>
<rect x="229.5" y="315" width="1" height="4" fill="#000"/>
<rect x="229.5" y="363" width="1" height="4.5" fill="#000"/>
<rect x="231.5" y="315" width="1" height="4" fill="#000"/>
<rect x="231.5" y="363" width="1" height="4.5" fill="#000"/>
<rect x="233.5" y="315" width="1" height="4" fill="#000"/>
<rect x="233.5" y="363" width="1" height="4.5" fill="#000"/>
<rect x="235.5" y="315" width="1" height="4" fill="#000"/>
<rect x="235.5" y="363" width="1" height="4.5" fill="#000"/>
<rect x="237.5" y="315" width="1" height="4" fill="#000"/>
<rect x="237.5" y="363" width="1" height="4.5" fill="#000"/>
<rect x="239.5" y="315" width="1" height="4" fill="#000"/>
<rect x="239.5" y="363" width="1" height="4.5" fill="#000"/>
<rect x="241.5" y="315" width="1" height="4" fill="#000"/>
<rect x="241.5" y="363" width="1" height="4.5" fill="#000"/>
<rect x="243.5" y="315" width="1" height="4" fill="#000"/>
<rect x="243.5" y="363" width="1" height="4.5" fill="#000"/>
<rect x="245.5" y="315" width="1" height="4" fill="#000"/>
<rect x="245.5" y="363" width="1" height="4.5" fill="#000"/>
<rect x="247.5" y="315" width="1" height="4" fill="#000"/>
<rect x="247.5" y="363" width="1" height="4.5" fill="#000"/>
<rect x="249.5" y="315" width="1" height="4" fill="#000"/>
<rect x="249.5" y="363" width="1" height="4.5" fill="#000"/>
<rect x="251.5" y="315" width="1" height="4" fill="#000"/>
<rect x="251.5" y="363" width="1" height="4.5" fill="#000"/>
<rect x="206" y="321.5" width="4" height="1" fill="#000"/>
<rect x="256" y="321.5" width="4.5" height="1" fill="#000"/>
<rect x="206" y="323.5" width="4" height="1" fill="#000"/>
<rect x="256" y="323.5" width="4.5" height="1" fill="#000"/>
<rect x="206" y="325.5" width="4" height="1" fill="#000"/>
<rect x="256" y="325.5" width="4.5" height="1" fill="#000"/>
<rect x="206" y="327.5" width="4" height="1" fill="#000"/>
<rect x="256" y="327.5" width="4.5" height="1" fill="#000"/>
<rect x="206" y="329.5" width="4" height="1" fill="#000"/>
<rect x="256" y="329.5" width="4.5" height="1" fill="#000"/>
<rect x="206" y="331.5" width="4" height="1" fill="#000"/>
<rect x="256" y="331.5" width="4.5" height="1" fill="#000"/>
<rect x="206" y="333.5" width="4" height="1" fill="#000"/>
<rect x="256" y="333.5" width="4.5" height="1" fill="#000"/>
<rect x="206" y="335.5" width="4" height="1" fill="#000"/>
<rect x="256" y="335.5" width="4.5" height="1" fill="#000"/>
<rect x="206" y="337.5" width="4" height="1" fill="#000"/>
<rect x="256" y="337.5" width="4.5" height="1" fill="#000"/>
<rect x="206" y="339.5" width="4" height="1" fill="#000"/>
<rect x="256" y="339.5" width="4.5" height="1" fill="#000"/>
<rect x="206" y="341.5" width="4" height="1" fill="#000"/>
<rect x="256" y="341.5" width="4.5" height="1" fill="#000"/>
<rect x="206" y="343.5" width="4" height="1" fill="#000"/>
<rect x="256" y="343.5" width="4.5" height="1" fill="#000"/>
<rect x="206" y="345.5" width="4" height="1" fill="#000"/>
<rect x="256" y="345.5" width="4.5" height="1" fill="#000"/>
<rect x="206" y="347.5" width="4" height="1" fill="#000"/>
<rect x="256" y="347.5" width="4.5" height="1" fill="#000"/>
<rect x="206" y="349.5" width="4" height="1" fill="#000"/>
<rect x="256" y="349.5" width="4.5" height="1" fill="#000"/>
<rect x="206" y="351.5" width="4" height="1" fill="#000"/>
<rect x="256" y="351.5" width="4.5" height="1" fill="#000"/>
<rect x="206" y="353.5" width="4" height="1" fill="#000"/>
<rect x="256" y="353.5" width="4.5" height="1" fill="#000"/>
<rect x="206" y="355.5" width="4" height="1" fill="#000"/>
<rect x="256" y="355.5" width="4.5" height="1" fill="#000"/>
<rect x="206" y="357.5" width="4" height="1" fill="#000"/>
<rect x="256" y="357.5" width="4.5" height="1" fill="#000"/>
<rect x="206" y="359.5" width="4" height="1" fill="#000"/>
<rect x="256" y="359.5" width="4.5" height="1" fill="#000"/>
<polygon points="213,319 210,322 205,317 205,314 208,314" fill="#000"/>
<polygon points="253,319 256,322 261,317 261,314 258,314" fill="#000"/>
<polygon points="213,363 210,360 205,365 205,368 208,368" fill="#000"/>
<polygon points="253,363 256,360 261,365 261,368 258,368" fill="#000"/>
<polygon points="219.8,334 246.1,334 247.1,335 247.1,347 246.1,348 219.8,348 218.8,347 218.8,335" fill="#fff"/>
<rect x="215.5" y="354" width="3" height="6" fill="#fff"/>
<rect x="214" y="355.5" width="6" height="3" fill="#fff"/>
<rect x="214.7" y="354.7" width="4.6" height="4.6" fill="#fff"/>
<rect x="280" y="319" width="75" height="75" fill="#000"/>
<rect x="283" y="322" width="69" height="70" fill="#fff"/>
<rect x="280" y="319" width="10" height="10" fill="#000"/>
<rect x="345" y="319" width="10" height="10" fill="#000"/>
<rect x="344" y="385" width="11" height="9" fill="#000"/>
<rect x="346" y="384" width="9" height="1" fill="#000"/>
<rect x="280" y="384" width="10" height="10" fill="#000"/>
<polygon points="279,388.5 285.5,395 279,395" fill="#fff"/>
<rect x="283" y="386" width="6" height="5" rx="2" ry="2" fill="#fff"/>
<rect x="295" y="322" width="1" height="6" fill="#000"/>
<rect x="298" y="322" width="1" height="6" fill="#000"/>
<rect x="306.5" y="322" width="1" height="6" fill="#000"/>
<rect x="310" y="322" width="1" height="6" fill="#000"/>
<rect x="316.5" y="322" width="1" height="6" fill="#000"/>
<rect x="328.5" y="322" width="1" height="6" fill="#000"/>
<rect x="331.5" y="322" width="1" height="6" fill="#000"/>
<rect x="340.5" y="322" width="1" height="6" fill="#000"/>
<rect x="343.5" y="322" width="1" height="6" fill="#000"/>
<rect x="292.5" y="386" width="1" height="6" fill="#000"/>
<rect x="300" y="386" width="1" height="6" fill="#000"/>
<rect x="303" y="386" width="1" height="6" fill="#000"/>
<rect x="311.5" y="386" width="1" height="6" fill="#000"/>
<rect x="314.5" y="386" width="1" height="6" fill="#000"/>
<rect x="322.5" y="386" width="1" height="6" fill="#000"/>
<rect x="325.5" y="386" width="1" height="6" fill="#000"/>
<rect x="336" y="386" width="1" height="6" fill="#000"/>
<rect x="283" y="333.5" width="5.5" height="1" fill="#000"/>
<rect x="283" y="337" width="5.5" height="1" fill="#000"/>
<rect x="283" y="346" width="5.5" height="1" fill="#000"/>
<rect x="283" y="349" width="5.5" height="1" fill="#000"/>
<rect x="283" y="356" width="5.5" height="1" fill="#000"/>
<rect x="283" y="367" width="5.5" height="1" fill="#000"/>
<rect x="283" y="370" width="5.5" height="1" fill="#000"/>
<rect x="283" y="379.5" width="5.5" height="1" fill="#000"/>
<rect x="283" y="382.5" width="5.5" height="1" fill="#000"/>
<rect x="346.5" y="333.5" width="5.5" height="1" fill="#000"/>
<rect x="346.5" y="337" width="5.5" height="1" fill="#000"/>
<rect x="346.5" y="346.5" width="5.5" height="1" fill="#000"/>
<rect x="346.5" y="349.5" width="5.5" height="1" fill="#000"/>
<rect x="346.5" y="356.5" width="5.5" height="1" fill="#000"/>
<rect x="346.5" y="367" width="5.5" height="1" fill="#000"/>
<rect x="346.5" y="370" width="5.5" height="1" fill="#000"/>
<rect x="346.5" y="378.5" width="5.5" height="1" fill="#000"/>
<polygon points="303.5,347 331.5,347 334,349.5 334,363.5 331.5,366 303.5,366 301,363.5 301,349.5" fill="#000"/>
<polygon points="303.8,349.8 330.1,349.8 331.1,350.8 331.1,363 330.1,364 303.8,364 302.8,363 302.8,350.8" fill="#fff"/>
<rect x="82" y="295" width="1" height="6" fill="#000"/>
<rect x="96" y="295" width="1" height="6" fill="#000"/>
<rect x="79" y="301" width="22" height="2" fill="#000"/>
<rect x="80" y="302" width="20" height="27" rx="2.5" fill="#000"/>
<rect x="81" y="303" width="18" height="25" rx="1.5" fill="#fff"/>
<rect x="81" y="303" width="18" height="25" rx="1.5" fill="url(#dots)"/>
<rect x="363" y="404.3" width="1" height="6" fill="#000"/>
<rect x="377" y="404.3" width="1" height="6" fill="#000"/>
<rect x="360" y="410.3" width="22" height="2" fill="#000"/>
<rect x="361" y="411.3" width="20" height="27" rx="2.5" fill="#000"/>
<rect x="362" y="412.3" width="18" height="25" rx="1.5" fill="#fff"/>
<rect x="362" y="412.3" width="18" height="25" rx="1.5" fill="url(#dots)"/>
<path d="M570.5,78 q0,-3.5 4,-3.5 q3,-2 6,0.5 q5,2 10,-1 q4,-1 7,1 q4,1.5 7,-0.5 q3,-1.5 5,0.5 q2,0.5 2,3 l0,19 q0,3 -3,3 q-3,2 -6,0 q-4,-1.5 -8,0.5 q-3,2 -6,0 q-4,-1.500 -8,0.5 q-3,1.5 -6,-0.5 q-4,0 -4,-3 z" fill="#fff" stroke="#000" stroke-width="1"/>
<path d="M570.5,78 q0,-3.5 4,-3.5 q3,-2 6,0.5 q5,2 10,-1 q4,-1 7,1 q4,1.5 7,-0.5 q3,-1.5 5,0.5 q2,0.5 2,3 l0,19 q0,3 -3,3 q-3,2 -6,0 q-4,-1.5 -8,0.5 q-3,2 -6,0 q-4,-1.500 -8,0.5 q-3,1.5 -6,-0.5 q-4,0 -4,-3 z" fill="url(#dots)"/>
<rect x="640" y="112" width="49" height="27" fill="#000"/>
<polygon points="644.6,113 684.4,113 687,115.6 687,134.4 684.4,137 644.6,137 642,134.4 642,115.6" fill="#fff"/>
<rect x="641.4" y="112.4" width="1.6" height="1.6" fill="#fff"/>
<rect x="686" y="112.4" width="1.6" height="1.6" fill="#fff"/>
<rect x="641.4" y="136" width="1.6" height="1.6" fill="#fff"/>
<rect x="686" y="136" width="1.6" height="1.6" fill="#fff"/>
<rect x="52" y="467" width="49" height="27" fill="#000"/>
<polygon points="56.6,469 96.4,469 99,471.6 99,489.4 96.4,492 56.6,492 54,489.4 54,471.6" fill="#fff"/>
<rect x="53.4" y="468.4" width="1.6" height="1.6" fill="#fff"/>
<rect x="98" y="468.4" width="1.6" height="1.6" fill="#fff"/>
<rect x="53.4" y="491" width="1.6" height="1.6" fill="#fff"/>
<rect x="98" y="491" width="1.6" height="1.6" fill="#fff"/>
<rect x="406.5" y="231" width="128.5" height="20" fill="#000"/>
<rect x="413.5" y="238" width="113.5" height="7" fill="#fff"/>
<rect x="545" y="231" width="202" height="20" fill="#000"/>
<rect x="553" y="238" width="185" height="6.5" fill="#fff"/>
<rect x="779" y="99" width="31" height="40.5" fill="#000"/>
<rect x="806" y="99.8" width="18" height="38.1" rx="2.5" fill="#000"/>
<rect x="807" y="100.8" width="16" height="36.1" rx="1.8" fill="#fff"/>
<rect x="779" y="99" width="31" height="40.5" fill="#000"/>
<rect x="779" y="164" width="31" height="40.5" fill="#000"/>
<rect x="806" y="164.8" width="18" height="38.1" rx="2.5" fill="#000"/>
<rect x="807" y="165.8" width="16" height="36.1" rx="1.8" fill="#fff"/>
<rect x="779" y="164" width="31" height="40.5" fill="#000"/>
<rect x="779" y="267.5" width="31" height="92" fill="#000"/>
<rect x="806" y="268.3" width="18" height="89.6" rx="2.5" fill="#000"/>
<rect x="807" y="269.3" width="16" height="87.6" rx="1.8" fill="#fff"/>
<rect x="779" y="267.5" width="31" height="92" fill="#000"/>
<rect x="804.5" y="88" width="6.5" height="11" fill="#000"/>
<rect x="807" y="92" width="2" height="2.5" fill="#fff"/>
<rect x="804.5" y="139.5" width="6.5" height="9.5" fill="#000"/>
<rect x="807" y="143" width="2" height="2.5" fill="#fff"/>
<rect x="804.5" y="152.5" width="6.5" height="11.5" fill="#000"/>
<rect x="807" y="156.5" width="2" height="2.5" fill="#fff"/>
<rect x="804.5" y="204.5" width="6.5" height="10" fill="#000"/>
<rect x="807" y="208" width="2" height="2.5" fill="#fff"/>
<rect x="804.5" y="258.5" width="6.5" height="9" fill="#000"/>
<rect x="807" y="261.5" width="2" height="2.5" fill="#fff"/>
<rect x="804.5" y="359.5" width="6.5" height="9.5" fill="#000"/>
<rect x="807" y="363" width="2" height="2.5" fill="#fff"/>
<rect x="777" y="383.5" width="34" height="40" fill="#000"/>
<rect x="778" y="384.5" width="31" height="38" fill="#fff"/>
<rect x="810" y="383.5" width="7" height="40" fill="#000"/>
<rect x="780" y="448" width="31" height="37" fill="#000"/>
<rect x="804" y="444" width="7" height="46" fill="#000"/>
<rect x="807" y="441" width="4" height="51" fill="#000"/>
<rect x="773" y="457" width="7" height="8.5" fill="#000"/>
<rect x="774" y="458" width="5" height="6.5" fill="#fff"/>
<rect x="773" y="468" width="7" height="8.5" fill="#000"/>
<rect x="774" y="469" width="5" height="6.5" fill="#fff"/>
<rect x="777" y="454" width="3" height="24" fill="#000"/>
<rect x="778" y="455" width="2" height="22" fill="#fff"/>
<rect x="778" y="456" width="2" height="1" fill="#000"/>
<rect x="778" y="458" width="2" height="1" fill="#000"/>
<rect x="778" y="460" width="2" height="1" fill="#000"/>
<rect x="778" y="462" width="2" height="1" fill="#000"/>
<rect x="778" y="470" width="2" height="1" fill="#000"/>
<rect x="778" y="472" width="2" height="1" fill="#000"/>
<rect x="778" y="474" width="2" height="1" fill="#000"/>
<rect x="778" y="476" width="2" height="1" fill="#000"/>
<rect x="583" y="433" width="126" height="43" fill="#000"/>
<rect x="585" y="435" width="3.5" height="1" fill="#fff"/>
<rect x="591" y="435" width="3.5" height="1" fill="#fff"/>
<rect x="597" y="435" width="3.5" height="1" fill="#fff"/>
<rect x="603" y="435" width="3.5" height="1" fill="#fff"/>
<rect x="609" y="435" width="3.5" height="1" fill="#fff"/>
<rect x="615" y="435" width="3.5" height="1" fill="#fff"/>
<rect x="621" y="435" width="3.5" height="1" fill="#fff"/>
<rect x="627" y="435" width="3.5" height="1" fill="#fff"/>
<rect x="633" y="435" width="3.5" height="1" fill="#fff"/>
<rect x="639" y="435" width="3.5" height="1" fill="#fff"/>
<rect x="645" y="435" width="3.5" height="1" fill="#fff"/>
<rect x="651" y="435" width="3.5" height="1" fill="#fff"/>
<rect x="657" y="435" width="3.5" height="1" fill="#fff"/>
<rect x="663" y="435" width="3.5" height="1" fill="#fff"/>
<rect x="669" y="435" width="3.5" height="1" fill="#fff"/>
<rect x="675" y="435" width="3.5" height="1" fill="#fff"/>
<rect x="681" y="435" width="3.5" height="1" fill="#fff"/>
<rect x="687" y="435" width="3.5" height="1" fill="#fff"/>
<rect x="693" y="435" width="3.5" height="1" fill="#fff"/>
<rect x="699" y="435" width="3.5" height="1" fill="#fff"/>
<rect x="705" y="435" width="3.5" height="1" fill="#fff"/>
<rect x="583" y="449" width="1.5" height="12" fill="#fff"/>
<polygon points="633,446.8 659,446.8 660,447.8 660,460.8 659,461.8 633,461.8 632,460.8 632,447.8" fill="#fff"/>
<rect x="650" y="494" width="113" height="25" fill="#000"/>
<rect x="651" y="495" width="111" height="23" fill="#fff"/>
<rect x="652.7" y="497.6" width="7" height="3" fill="#000"/>
<rect x="653.7" y="498.6" width="5" height="1" fill="#fff"/>
<rect x="654.7" y="500.6" width="3" height="1.4" fill="#000"/>
<rect x="652.7" y="505" width="7" height="2" fill="#000"/>
<rect x="661.85" y="497.6" width="7" height="3" fill="#000"/>
<rect x="662.85" y="498.6" width="5" height="1" fill="#fff"/>
<rect x="663.85" y="500.6" width="3" height="1.4" fill="#000"/>
<rect x="661.85" y="505" width="7" height="2" fill="#000"/>
<rect x="671" y="497.6" width="7" height="3" fill="#000"/>
<rect x="672" y="498.6" width="5" height="1" fill="#fff"/>
<rect x="673" y="500.6" width="3" height="1.4" fill="#000"/>
<rect x="671" y="505" width="7" height="2" fill="#000"/>
<rect x="680.15" y="497.6" width="7" height="3" fill="#000"/>
<rect x="681.15" y="498.6" width="5" height="1" fill="#fff"/>
<rect x="682.15" y="500.6" width="3" height="1.4" fill="#000"/>
<rect x="680.15" y="505" width="7" height="2" fill="#000"/>
<rect x="689.3" y="497.6" width="7" height="3" fill="#000"/>
<rect x="690.3" y="498.6" width="5" height="1" fill="#fff"/>
<rect x="691.3" y="500.6" width="3" height="1.4" fill="#000"/>
<rect x="689.3" y="505" width="7" height="2" fill="#000"/>
<rect x="698.45" y="497.6" width="7" height="3" fill="#000"/>
<rect x="699.45" y="498.6" width="5" height="1" fill="#fff"/>
<rect x="700.45" y="500.6" width="3" height="1.4" fill="#000"/>
<rect x="698.45" y="505" width="7" height="2" fill="#000"/>
<rect x="707.6" y="497.6" width="7" height="3" fill="#000"/>
<rect x="708.6" y="498.6" width="5" height="1" fill="#fff"/>
<rect x="709.6" y="500.6" width="3" height="1.4" fill="#000"/>
<rect x="707.6" y="505" width="7" height="2" fill="#000"/>
<rect x="716.75" y="497.6" width="7" height="3" fill="#000"/>
<rect x="717.75" y="498.6" width="5" height="1" fill="#fff"/>
<rect x="718.75" y="500.6" width="3" height="1.4" fill="#000"/>
<rect x="716.75" y="505" width="7" height="2" fill="#000"/>
<rect x="725.9" y="497.6" width="7" height="3" fill="#000"/>
<rect x="726.9" y="498.6" width="5" height="1" fill="#fff"/>
<rect x="727.9" y="500.6" width="3" height="1.4" fill="#000"/>
<rect x="725.9" y="505" width="7" height="2" fill="#000"/>
<rect x="735.05" y="497.6" width="7" height="3" fill="#000"/>
<rect x="736.05" y="498.6" width="5" height="1" fill="#fff"/>
<rect x="737.05" y="500.6" width="3" height="1.4" fill="#000"/>
<rect x="735.05" y="505" width="7" height="2" fill="#000"/>
<rect x="744.2" y="497.6" width="7" height="3" fill="#000"/>
<rect x="745.2" y="498.6" width="5" height="1" fill="#fff"/>
<rect x="746.2" y="500.6" width="3" height="1.4" fill="#000"/>
<rect x="744.2" y="505" width="7" height="2" fill="#000"/>
<rect x="753.35" y="497.6" width="7" height="3" fill="#000"/>
<rect x="754.35" y="498.6" width="5" height="1" fill="#fff"/>
<rect x="755.35" y="500.6" width="3" height="1.4" fill="#000"/>
<rect x="753.35" y="505" width="7" height="2" fill="#000"/>
<rect x="651" y="502.5" width="111" height="1" fill="#000"/>
<rect x="655.8" y="508" width="7.2" height="8" fill="#000"/>
<rect x="656.8" y="509" width="5.2" height="6" fill="#fff"/>
<rect x="664.95" y="508" width="7.2" height="8" fill="#000"/>
<rect x="665.95" y="509" width="5.2" height="6" fill="#fff"/>
<rect x="674.1" y="508" width="7.2" height="8" fill="#000"/>
<rect x="675.1" y="509" width="5.2" height="6" fill="#fff"/>
<rect x="683.25" y="508" width="7.2" height="8" fill="#000"/>
<rect x="684.25" y="509" width="5.2" height="6" fill="#fff"/>
<rect x="692.4" y="508" width="7.2" height="8" fill="#000"/>
<rect x="693.4" y="509" width="5.2" height="6" fill="#fff"/>
<rect x="701.55" y="508" width="7.2" height="8" fill="#000"/>
<rect x="702.55" y="509" width="5.2" height="6" fill="#fff"/>
<rect x="710.7" y="508" width="7.2" height="8" fill="#000"/>
<rect x="711.7" y="509" width="5.2" height="6" fill="#fff"/>
<rect x="719.85" y="508" width="7.2" height="8" fill="#000"/>
<rect x="720.85" y="509" width="5.2" height="6" fill="#fff"/>
<rect x="729" y="508" width="7.2" height="8" fill="#000"/>
<rect x="730" y="509" width="5.2" height="6" fill="#fff"/>
<rect x="738.15" y="508" width="7.2" height="8" fill="#000"/>
<rect x="739.15" y="509" width="5.2" height="6" fill="#fff"/>
<rect x="749.3" y="508" width="7.2" height="8" fill="#000"/>
<rect x="750.3" y="509" width="5.2" height="6" fill="#fff"/>
<rect x="651" y="509" width="2" height="2" fill="#000"/>
<rect x="651" y="513" width="2" height="2" fill="#000"/>
<rect x="760" y="509" width="2" height="2" fill="#000"/>
<rect x="760" y="513" width="2" height="2" fill="#000"/>
<rect x="645" y="363" width="42.5" height="13" fill="#000"/>
<rect x="646.5" y="369" width="4" height="1" fill="#fff"/>
<rect x="646.5" y="374" width="4" height="1" fill="#fff"/>
<rect x="652.5" y="369" width="4" height="1" fill="#fff"/>
<rect x="652.5" y="374" width="4" height="1" fill="#fff"/>
<rect x="658.5" y="369" width="4" height="1" fill="#fff"/>
<rect x="658.5" y="374" width="4" height="1" fill="#fff"/>
<rect x="664.5" y="369" width="4" height="1" fill="#fff"/>
<rect x="664.5" y="374" width="4" height="1" fill="#fff"/>
<rect x="670.5" y="369" width="4" height="1" fill="#fff"/>
<rect x="670.5" y="374" width="4" height="1" fill="#fff"/>
<rect x="676.5" y="369" width="4" height="1" fill="#fff"/>
<rect x="676.5" y="374" width="4" height="1" fill="#fff"/>
<rect x="682.5" y="369" width="4" height="1" fill="#fff"/>
<rect x="682.5" y="374" width="4" height="1" fill="#fff"/>
<rect x="657.3" y="364.5" width="1" height="10" fill="#fff"/>
<rect x="663" y="364.5" width="1" height="10" fill="#fff"/>
<rect x="465" y="356" width="13.2" height="119" fill="#000"/>
<rect x="466" y="357" width="11.2" height="117" fill="#fff"/>
<rect x="467.3" y="358" width="4" height="3.8" fill="#000"/>
<rect x="472.5" y="358" width="4.5" height="3.8" fill="#000"/>
<rect x="467.3" y="363.9" width="4" height="3.8" fill="#000"/>
<rect x="472.5" y="363.9" width="4.5" height="3.8" fill="#000"/>
<rect x="467.3" y="369.8" width="4" height="3.8" fill="#000"/>
<rect x="472.5" y="369.8" width="4.5" height="3.8" fill="#000"/>
<rect x="467.3" y="375.7" width="4" height="3.8" fill="#000"/>
<rect x="472.5" y="375.7" width="4.5" height="3.8" fill="#000"/>
<rect x="467.3" y="381.6" width="4" height="3.8" fill="#000"/>
<rect x="472.5" y="381.6" width="4.5" height="3.8" fill="#000"/>
<rect x="467.3" y="387.5" width="4" height="3.8" fill="#000"/>
<rect x="472.5" y="387.5" width="4.5" height="3.8" fill="#000"/>
<rect x="467.3" y="393.4" width="4" height="3.8" fill="#000"/>
<rect x="472.5" y="393.4" width="4.5" height="3.8" fill="#000"/>
<rect x="467.3" y="399.3" width="4" height="3.8" fill="#000"/>
<rect x="472.5" y="399.3" width="4.5" height="3.8" fill="#000"/>
<rect x="467.3" y="405.2" width="4" height="3.8" fill="#000"/>
<rect x="472.5" y="405.2" width="4.5" height="3.8" fill="#000"/>
<rect x="467.3" y="411.1" width="4" height="3.8" fill="#000"/>
<rect x="472.5" y="411.1" width="4.5" height="3.8" fill="#000"/>
<rect x="467.3" y="417" width="4" height="3.8" fill="#000"/>
<rect x="472.5" y="417" width="4.5" height="3.8" fill="#000"/>
<rect x="467.3" y="422.9" width="4" height="3.8" fill="#000"/>
<rect x="472.5" y="422.9" width="4.5" height="3.8" fill="#000"/>
<rect x="467.3" y="428.8" width="4" height="3.8" fill="#000"/>
<rect x="472.5" y="428.8" width="4.5" height="3.8" fill="#000"/>
<rect x="467.3" y="434.7" width="4" height="3.8" fill="#000"/>
<rect x="472.5" y="434.7" width="4.5" height="3.8" fill="#000"/>
<rect x="467.3" y="440.6" width="4" height="3.8" fill="#000"/>
<rect x="472.5" y="440.6" width="4.5" height="3.8" fill="#000"/>
<rect x="467.3" y="446.5" width="4" height="3.8" fill="#000"/>
<rect x="472.5" y="446.5" width="4.5" height="3.8" fill="#000"/>
<rect x="467.3" y="452.4" width="4" height="3.8" fill="#000"/>
<rect x="472.5" y="452.4" width="4.5" height="3.8" fill="#000"/>
<rect x="467.3" y="458.3" width="4" height="3.8" fill="#000"/>
<rect x="472.5" y="458.3" width="4.5" height="3.8" fill="#000"/>
<rect x="467.3" y="464.2" width="4" height="3.8" fill="#000"/>
<rect x="472.5" y="464.2" width="4.5" height="3.8" fill="#000"/>
<rect x="467.3" y="470.1" width="4" height="4.5" fill="#000"/>
<rect x="468.3" y="471.1" width="2" height="2.5" fill="#fff"/>
<rect x="472.5" y="470.1" width="4.5" height="4" fill="#000"/>
<rect x="503" y="374" width="12.2" height="101" fill="#000"/>
<rect x="504.2" y="378.6" width="9.8" height="1.4" fill="#fff"/>
<rect x="504.2" y="384.55" width="9.8" height="1.4" fill="#fff"/>
<rect x="504.2" y="390.5" width="9.8" height="1.4" fill="#fff"/>
<rect x="504.2" y="396.45" width="9.8" height="1.4" fill="#fff"/>
<rect x="504.2" y="402.4" width="9.8" height="1.4" fill="#fff"/>
<rect x="504.2" y="408.35" width="9.8" height="1.4" fill="#fff"/>
<rect x="504.2" y="414.3" width="9.8" height="1.4" fill="#fff"/>
<rect x="504.2" y="420.25" width="9.8" height="1.4" fill="#fff"/>
<rect x="504.2" y="426.2" width="9.8" height="1.4" fill="#fff"/>
<rect x="504.2" y="432.15" width="9.8" height="1.4" fill="#fff"/>
<rect x="504.2" y="438.1" width="9.8" height="1.4" fill="#fff"/>
<rect x="504.2" y="444.05" width="9.8" height="1.4" fill="#fff"/>
<rect x="504.2" y="450" width="9.8" height="1.4" fill="#fff"/>
<rect x="504.2" y="455.95" width="9.8" height="1.4" fill="#fff"/>
<rect x="504.2" y="461.9" width="9.8" height="1.4" fill="#fff"/>
<rect x="504.2" y="467.85" width="9.8" height="1.4" fill="#fff"/>
<rect x="504.2" y="473.8" width="9.8" height="1.4" fill="#fff"/>
<rect x="508.7" y="375" width="1" height="99" fill="#fff"/>
<rect x="504.5" y="469.5" width="3" height="4.5" fill="#fff"/>
<rect x="505.5" y="470.5" width="1" height="2.5" fill="#000"/>
<rect x="35" y="178" width="26" height="7" fill="#000"/>
<rect x="36" y="179" width="1" height="5" fill="#fff"/>
<rect x="42" y="179" width="1" height="5" fill="#fff"/>
<rect x="48" y="179" width="1" height="5" fill="#fff"/>
<rect x="53" y="179" width="2" height="5" fill="#fff"/>
<rect x="59" y="179" width="1" height="5" fill="#fff"/>
<rect x="38" y="180" width="3" height="3" fill="#fff"/>
<rect x="35" y="189" width="31" height="7" fill="#000"/>
<rect x="36" y="194" width="29" height="1" fill="#fff"/>
<rect x="36" y="190" width="1" height="5" fill="#fff"/>
<rect x="41" y="190" width="1" height="5" fill="#fff"/>
<rect x="47" y="190" width="1" height="5" fill="#fff"/>
<rect x="53" y="190" width="1" height="5" fill="#fff"/>
<rect x="58.5" y="190" width="1.5" height="5" fill="#fff"/>
<rect x="64" y="190" width="1" height="5" fill="#fff"/>
<rect x="38" y="191" width="2" height="2" fill="#fff"/>
<rect x="69" y="189" width="14" height="6" fill="#000"/>
<rect x="70.3" y="190" width="1" height="4" fill="#fff"/>
<rect x="75" y="190" width="2" height="4" fill="#fff"/>
<rect x="81" y="190" width="1" height="4" fill="#fff"/>
<rect x="35" y="200" width="14" height="7" fill="#000"/>
<rect x="36" y="205" width="12" height="1" fill="#fff"/>
<rect x="36.3" y="201" width="1" height="5" fill="#fff"/>
<rect x="41.5" y="201" width="1" height="5" fill="#fff"/>
<rect x="47" y="201" width="1" height="5" fill="#fff"/>
<rect x="53" y="200" width="14" height="7" fill="#000"/>
<rect x="54" y="205" width="12" height="1" fill="#fff"/>
<rect x="54.3" y="201" width="1" height="5" fill="#fff"/>
<rect x="59.5" y="201" width="1" height="5" fill="#fff"/>
<rect x="65" y="201" width="1" height="5" fill="#fff"/>
<rect x="35" y="213" width="36" height="7" fill="#000"/>
<rect x="36" y="214" width="34" height="1" fill="#fff"/>
<rect x="36.4" y="214" width="1" height="5" fill="#fff"/>
<rect x="41.5" y="214" width="1" height="5" fill="#fff"/>
<rect x="47.5" y="214" width="1" height="5" fill="#fff"/>
<rect x="53.4" y="214" width="1" height="5" fill="#fff"/>
<rect x="59.4" y="214" width="1" height="5" fill="#fff"/>
<rect x="65.5" y="214" width="1" height="5" fill="#fff"/>
<rect x="38" y="216" width="2" height="2" fill="#fff"/>
<rect x="128" y="164" width="20" height="7" fill="#000"/>
<rect x="129" y="169" width="18" height="1" fill="#fff"/>
<rect x="129" y="165" width="1" height="5" fill="#fff"/>
<rect x="135" y="165" width="1" height="5" fill="#fff"/>
<rect x="140.5" y="165" width="1" height="5" fill="#fff"/>
<rect x="146" y="165" width="1" height="5" fill="#fff"/>
<rect x="131" y="166" width="3" height="2" fill="#fff"/>
<rect x="129" y="174" width="19" height="7" fill="#000"/>
<rect x="130" y="175" width="1" height="5" fill="#fff"/>
<rect x="135" y="175" width="1" height="5" fill="#fff"/>
<rect x="141" y="175" width="1" height="5" fill="#fff"/>
<rect x="132" y="176" width="2" height="3" fill="#fff"/>
<rect x="156" y="164" width="20" height="7" fill="#000"/>
<rect x="157" y="169" width="18" height="1" fill="#fff"/>
<rect x="157" y="165" width="1" height="5" fill="#fff"/>
<rect x="163" y="165" width="1" height="5" fill="#fff"/>
<rect x="168.5" y="165" width="1" height="5" fill="#fff"/>
<rect x="174" y="165" width="1" height="5" fill="#fff"/>
<rect x="159" y="166" width="3" height="2" fill="#fff"/>
<rect x="157" y="174" width="19" height="7" fill="#000"/>
<rect x="158" y="175" width="1" height="5" fill="#fff"/>
<rect x="163" y="175" width="1" height="5" fill="#fff"/>
<rect x="169" y="175" width="1" height="5" fill="#fff"/>
<rect x="160" y="176" width="2" height="3" fill="#fff"/>
<rect x="184" y="164" width="20" height="7" fill="#000"/>
<rect x="185" y="169" width="18" height="1" fill="#fff"/>
<rect x="185" y="165" width="1" height="5" fill="#fff"/>
<rect x="191" y="165" width="1" height="5" fill="#fff"/>
<rect x="196.5" y="165" width="1" height="5" fill="#fff"/>
<rect x="202" y="165" width="1" height="5" fill="#fff"/>
<rect x="187" y="166" width="3" height="2" fill="#fff"/>
<rect x="185" y="174" width="19" height="7" fill="#000"/>
<rect x="186" y="175" width="1" height="5" fill="#fff"/>
<rect x="191" y="175" width="1" height="5" fill="#fff"/>
<rect x="197" y="175" width="1" height="5" fill="#fff"/>
<rect x="188" y="176" width="2" height="3" fill="#fff"/>
<rect x="647" y="208" width="19.3" height="7" fill="#000"/>
<rect x="648.5" y="209" width="1" height="5" fill="#fff"/>
<rect x="653" y="209" width="1.5" height="5" fill="#fff"/>
<rect x="659" y="209" width="2" height="5" fill="#fff"/>
<rect x="650" y="210" width="1.5" height="3" fill="#fff"/>
<rect x="736" y="49" width="19" height="7" fill="#000"/>
<rect x="737" y="50" width="17" height="1" fill="#fff"/>
<rect x="737" y="50" width="1" height="5" fill="#fff"/>
<rect x="743" y="50" width="1" height="5" fill="#fff"/>
<rect x="748.3" y="50" width="1.7" height="5" fill="#fff"/>
<rect x="739" y="52" width="3" height="2" fill="#fff"/>
<rect x="529" y="480" width="19" height="7" fill="#000"/>
<rect x="530" y="481" width="17" height="1" fill="#fff"/>
<rect x="535" y="481" width="1" height="5" fill="#fff"/>
<rect x="541" y="481" width="1" height="5" fill="#fff"/>
<rect x="546" y="481" width="1" height="5" fill="#fff"/>
<rect x="531" y="483" width="3" height="2" fill="#fff"/>
<rect x="724" y="323" width="7" height="26" fill="#000"/>
<rect x="729" y="324" width="1" height="24" fill="#fff"/>
<rect x="725" y="324" width="5" height="1" fill="#fff"/>
<rect x="725" y="329.6" width="5" height="1.4" fill="#fff"/>
<rect x="725" y="335.4" width="5" height="1.3" fill="#fff"/>
<rect x="725" y="341.2" width="5" height="1.6" fill="#fff"/>
<rect x="725" y="346.7" width="5" height="1" fill="#fff"/>
<rect x="726.2" y="326" width="1.8" height="2.6" fill="#fff"/>
<rect x="628" y="363" width="7" height="19" fill="#000"/>
<rect x="633" y="364" width="1" height="17" fill="#fff"/>
<rect x="629" y="368.8" width="5" height="1" fill="#fff"/>
<rect x="629" y="374.6" width="5" height="1" fill="#fff"/>
<rect x="629" y="380" width="5" height="1.3" fill="#fff"/>
<rect x="630" y="365" width="2" height="2.7" fill="#fff"/>
<rect x="630" y="394" width="7" height="13" fill="#000"/>
<rect x="635" y="395" width="1" height="11" fill="#fff"/>
<rect x="631" y="395.5" width="5" height="1" fill="#fff"/>
<rect x="631" y="400.5" width="5" height="1" fill="#fff"/>
<rect x="657" y="394" width="6.3" height="13" fill="#000"/>
<rect x="658" y="395.5" width="4.3" height="1" fill="#fff"/>
<rect x="658" y="400.3" width="4.3" height="1" fill="#fff"/>
<polygon points="44.1373,168.552 46.6009,178.467 47.7991,178.533 51.3266,168.944" fill="#000"/>
<polygon points="35.1,150 63.5,150 66,152.5 66,166.5 63.5,169 35.1,169 32.6,166.5 32.6,152.5" fill="#000"/>
<polygon points="35.6,152 62.4,152 63.4,153 63.4,165.5 62.4,166.5 35.6,166.5 34.6,165.5 34.6,153" fill="#fff"/>
<polygon points="46.3522,164.667 46.1343,168.661 47.466,173.624 49.3295,168.835 49.5474,164.841" fill="#fff"/>
<polygon points="72.6282,176.991 66.501,185.097 62.8489,188.795 64.1511,190.205 68.1289,186.86 76.6978,181.4" fill="#000"/>
<polygon points="75.1,161.4 93.9,161.4 96.4,163.9 96.4,177 93.9,179.5 75.1,179.5 72.6,177 72.6,163.9" fill="#000"/>
<polygon points="75.6,163.4 92.8,163.4 93.8,164.4 93.8,176 92.8,177 75.6,177 74.6,176 74.6,164.4" fill="#fff"/>
<polygon points="76.9239,175.748 73.9847,178.461 70.2542,183.265 75.3413,179.931 78.2805,177.217" fill="#fff"/>
<polygon points="91.7843,187.888 82.5057,190.8 82.4943,192 91.7158,195.088" fill="#000"/>
<polygon points="93.8,182.4 113.6,182.4 116.1,184.9 116.1,198 113.6,200.5 93.8,200.5 91.3,198 91.3,184.9" fill="#000"/>
<polygon points="94.3,184.4 112.5,184.4 113.5,185.4 113.5,197 112.5,198 94.3,198 93.3,197 93.3,185.4" fill="#fff"/>
<polygon points="95.7651,189.926 91.7653,189.888 87.125,191.444 91.7348,193.088 95.7346,193.126" fill="#fff"/>
<polygon points="30.7223,213.715 36.3807,205.964 35.6193,205.036 26.9149,209.078" fill="#000"/>
<polygon points="6.5,211.2 27.2,211.2 29.7,213.7 29.7,227.1 27.2,229.6 6.5,229.6 4,227.1 4,213.7" fill="#000"/>
<polygon points="7,213.2 26.1,213.2 27.1,214.2 27.1,226.1 26.1,227.1 7,227.1 6,226.1 6,214.2" fill="#fff"/>
<polygon points="26.3617,214.707 29.4532,212.169 32.4093,208.448 28.184,210.623 25.0926,213.162" fill="#fff"/>
<polygon points="80.9356,203.922 71.7906,203.141 67.2677,202.078 66.7323,203.922 71.1214,205.446 79.2627,209.684" fill="#000"/>
<polygon points="82.2,205.4 102.1,205.4 104.6,207.9 104.6,221.3 102.1,223.8 82.2,223.8 79.7,221.3 79.7,207.9" fill="#000"/>
<polygon points="82.7,207.4 101,207.4 102,208.4 102,220.3 101,221.3 82.7,221.3 81.7,220.3 81.7,208.4" fill="#fff"/>
<polygon points="84.2193,206.958 80.3779,205.843 74.9133,205.297 79.8203,207.763 83.6617,208.879" fill="#fff"/>
<polygon points="68.025,235.103 65.2156,225.211 64.7592,219.961 62.8408,220.039 62.8176,225.309 60.8311,235.4" fill="#000"/>
<polygon points="54.7,234.8 75,234.8 77.5,237.3 77.5,251.2 75,253.7 54.7,253.7 52.2,251.2 52.2,237.3" fill="#000"/>
<polygon points="55.2,236.8 73.9,236.8 74.9,237.8 74.9,250.2 73.9,251.2 55.2,251.2 54.2,250.2 54.2,237.8" fill="#fff"/>
<polygon points="66.1912,239.182 66.0266,235.186 64.1812,229.257 62.8294,235.317 62.9939,239.314" fill="#fff"/>
<polygon points="134.808,156.548 137.401,163.967 138.599,164.033 141.997,156.947" fill="#000"/>
<polygon points="128.7,138.1 149.1,138.1 151.6,140.6 151.6,154.5 149.1,157 128.7,157 126.2,154.5 126.2,140.6" fill="#000"/>
<polygon points="129.2,140.1 148,140.1 149,141.1 149,153.5 148,154.5 129.2,154.5 128.2,153.5 128.2,141.1" fill="#fff"/>
<polygon points="137.027,152.665 136.805,156.659 138.201,160.374 140,156.836 140.222,152.842" fill="#fff"/>
<polygon points="162.808,156.548 165.401,163.967 166.599,164.033 169.997,156.947" fill="#000"/>
<polygon points="156.7,138.1 177.2,138.1 179.7,140.6 179.7,154.5 177.2,157 156.7,157 154.2,154.5 154.2,140.6" fill="#000"/>
<polygon points="157.2,140.1 176.1,140.1 177.1,141.1 177.1,153.5 176.1,154.5 157.2,154.5 156.2,153.5 156.2,141.1" fill="#fff"/>
<polygon points="165.027,152.665 164.805,156.659 166.201,160.374 168,156.836 168.222,152.842" fill="#fff"/>
<polygon points="191.008,156.548 193.601,163.967 194.799,164.033 198.197,156.947" fill="#000"/>
<polygon points="184.9,138.1 204.5,138.1 207,140.6 207,154.5 204.5,157 184.9,157 182.4,154.5 182.4,140.6" fill="#000"/>
<polygon points="185.4,140.1 203.4,140.1 204.4,141.1 204.4,153.5 203.4,154.5 185.4,154.5 184.4,153.5 184.4,141.1" fill="#fff"/>
<polygon points="193.227,152.665 193.005,156.659 194.401,160.374 196.2,156.836 196.422,152.842" fill="#fff"/>
<polygon points="142.46,188.17 139.3,180.987 138.1,181.013 135.262,188.33" fill="#000"/>
<polygon points="129.4,187.9 149.9,187.9 152.4,190.4 152.4,203.9 149.9,206.4 129.4,206.4 126.9,203.9 126.9,190.4" fill="#000"/>
<polygon points="129.9,189.9 148.8,189.9 149.8,190.9 149.8,202.9 148.8,203.9 129.9,203.9 128.9,202.9 128.9,190.9" fill="#fff"/>
<polygon points="140.55,192.214 140.461,188.215 138.781,184.625 137.262,188.286 137.35,192.285" fill="#fff"/>
<polygon points="170.16,188.17 167,180.987 165.8,181.013 162.962,188.33" fill="#000"/>
<polygon points="157.1,187.9 177.2,187.9 179.7,190.4 179.7,203.9 177.2,206.4 157.1,206.4 154.6,203.9 154.6,190.4" fill="#000"/>
<polygon points="157.6,189.9 176.1,189.9 177.1,190.9 177.1,202.9 176.1,203.9 157.6,203.9 156.6,202.9 156.6,190.9" fill="#fff"/>
<polygon points="168.25,192.214 168.161,188.215 166.481,184.625 164.962,188.286 165.05,192.285" fill="#fff"/>
<polygon points="198.26,188.17 195.1,180.987 193.9,181.013 191.062,188.33" fill="#000"/>
<polygon points="185.2,187.9 205.2,187.9 207.7,190.4 207.7,203.9 205.2,206.4 185.2,206.4 182.7,203.9 182.7,190.4" fill="#000"/>
<polygon points="185.7,189.9 204.1,189.9 205.1,190.9 205.1,202.9 204.1,203.9 185.7,203.9 184.7,202.9 184.7,190.9" fill="#fff"/>
<polygon points="196.35,192.214 196.261,188.215 194.581,184.625 193.062,188.286 193.15,192.285" fill="#fff"/>
<polygon points="391.5,244.9 402.5,242.3 406.5,242.1 406.5,240.5 402.5,240.3 391.5,237.7" fill="#000"/>
<polygon points="368.5,232 389.5,232 392,234.5 392,247.8 389.5,250.3 368.5,250.3 366,247.8 366,234.5" fill="#000"/>
<polygon points="369,234 388.4,234 389.4,235 389.4,246.8 388.4,247.8 369,247.8 368,246.8 368,235" fill="#fff"/>
<polygon points="387.5,242.9 391.5,242.9 398.1,241.3 391.5,239.7 387.5,239.7" fill="#fff"/>
<polygon points="631.5,215.1 642.5,212.7 647,212.46 647,210.54 642.5,210.3 631.5,207.9" fill="#000"/>
<polygon points="608.4,202 629.5,202 632,204.5 632,218.5 629.5,221 608.4,221 605.9,218.5 605.9,204.5" fill="#000"/>
<polygon points="608.9,204 628.4,204 629.4,205 629.4,217.5 628.4,218.5 608.9,218.5 607.9,217.5 607.9,205" fill="#fff"/>
<polygon points="627.5,213.1 631.5,213.1 638.1,211.5 631.5,209.9 627.5,209.9" fill="#fff"/>
<polygon points="750.93,75.9361 747.638,67.1947 746.676,58.9216 744.924,59.0784 745.446,67.3908 743.758,76.5778" fill="#000"/>
<polygon points="732.9,75.9 763.3,75.9 765.8,78.4 765.8,92.2 763.3,94.7 732.9,94.7 730.4,92.2 730.4,78.4" fill="#000"/>
<polygon points="733.4,77.9 762.2,77.9 763.2,78.9 763.2,91.2 762.2,92.2 733.4,92.2 732.4,91.2 732.4,78.9" fill="#fff"/>
<polygon points="749.294,80.0985 748.938,76.1144 746.863,70.8784 745.75,76.3996 746.107,80.3836" fill="#fff"/>
<polygon points="762.188,122.429 773.228,120.218 777.984,120.06 778.016,118.14 773.269,117.819 762.311,115.231" fill="#000"/>
<polygon points="732.5,110.1 760.2,110.1 762.7,112.6 762.7,126.1 760.2,128.6 732.5,128.6 730,126.1 730,112.6" fill="#000"/>
<polygon points="733,112.1 759.1,112.1 760.1,113.1 760.1,125.1 759.1,126.1 733,126.1 732,125.1 732,113.1" fill="#fff"/>
<polygon points="758.223,120.361 762.222,120.43 768.849,118.943 762.277,117.23 758.278,117.162" fill="#fff"/>
<polygon points="762.541,185.777 773.513,183.251 778.011,182.96 777.989,181.04 773.485,180.852 762.459,178.577" fill="#000"/>
<polygon points="732.5,172.8 760.4,172.8 762.9,175.3 762.9,189.2 760.4,191.7 732.5,191.7 730,189.2 730,175.3" fill="#000"/>
<polygon points="733,174.8 759.3,174.8 760.3,175.8 760.3,188.2 759.3,189.2 733,189.2 732,188.2 732,175.8" fill="#fff"/>
<polygon points="758.518,183.823 762.518,183.777 769.099,182.102 762.482,180.577 758.482,180.623" fill="#fff"/>
<polygon points="719.339,305.284 724.289,315.42 726.343,323.201 728.057,322.799 726.43,314.917 726.348,303.637" fill="#000"/>
<polygon points="711.9,286.1 732.6,286.1 735.1,288.6 735.1,302.4 732.6,304.9 711.9,304.9 709.4,302.4 709.4,288.6" fill="#000"/>
<polygon points="712.4,288.1 731.5,288.1 732.5,289.1 732.5,301.4 731.5,302.4 712.4,302.4 711.4,301.4 711.4,289.1" fill="#fff"/>
<polygon points="720.371,300.932 721.286,304.826 724.353,310.885 724.401,304.094 723.486,300.2" fill="#fff"/>
<polygon points="763.646,317.649 774.711,315.564 779.473,315.46 779.527,313.54 774.779,313.165 763.852,310.451" fill="#000"/>
<polygon points="734.7,305.4 761.6,305.4 764.1,307.9 764.1,321.3 761.6,323.8 734.7,323.8 732.2,321.3 732.2,307.9" fill="#000"/>
<polygon points="735.2,307.4 760.5,307.4 761.5,308.4 761.5,320.3 760.5,321.3 735.2,321.3 734.2,320.3 734.2,308.4" fill="#fff"/>
<polygon points="759.705,315.535 763.704,315.649 770.347,314.238 763.795,312.451 759.797,312.336" fill="#fff"/>
<polygon points="759.48,407.608 770.493,405.269 775.995,405.06 776.005,403.14 770.506,402.869 759.52,400.408" fill="#000"/>
<polygon points="729.8,395.1 757.4,395.1 759.9,397.6 759.9,410.3 757.4,412.8 729.8,412.8 727.3,410.3 727.3,397.6" fill="#000"/>
<polygon points="730.3,397.1 756.3,397.1 757.3,398.1 757.3,409.3 756.3,410.3 730.3,410.3 729.3,409.3 729.3,398.1" fill="#fff"/>
<polygon points="755.491,405.586 759.491,405.608 766.1,404.045 759.509,402.408 755.509,402.386" fill="#fff"/>
<polygon points="469.306,339.542 471.231,349.668 471.121,355.45 472.879,355.55 473.428,349.794 476.494,339.953" fill="#000"/>
<polygon points="462.5,321 483.5,321 486,323.5 486,337.5 483.5,340 462.5,340 460,337.5 460,323.5" fill="#000"/>
<polygon points="463,323 482.4,323 483.4,324 483.4,336.5 482.4,337.5 463,337.5 462,336.5 462,324" fill="#fff"/>
<polygon points="471.531,335.662 471.303,339.656 472.558,345.737 474.498,339.838 474.726,335.845" fill="#fff"/>
<polygon points="506.311,356.553 508.267,366.673 508.121,373.453 509.879,373.547 510.464,366.792 513.5,356.942" fill="#000"/>
<polygon points="499.5,338 520.5,338 523,340.5 523,354.5 520.5,357 499.5,357 497,354.5 497,340.5" fill="#000"/>
<polygon points="500,340 519.4,340 520.4,341 520.4,353.5 519.4,354.5 500,354.5 499,353.5 499,341" fill="#fff"/>
<polygon points="508.524,352.667 508.308,356.661 509.582,362.739 511.503,356.834 511.719,352.84" fill="#fff"/>
<polygon points="535.294,462.513 537.142,472.654 536.922,479.443 538.678,479.557 539.337,472.797 542.479,462.979" fill="#000"/>
<polygon points="528.5,445 549.2,445 551.7,447.5 551.7,460.7 549.2,463.2 528.5,463.2 526,460.7 526,447.5" fill="#000"/>
<polygon points="529,447 548.1,447 549.1,448 549.1,459.7 548.1,460.7 529,460.7 528,459.7 528,448" fill="#fff"/>
<polygon points="537.549,458.651 537.29,462.643 538.498,468.734 540.483,462.85 540.742,458.858" fill="#fff"/>
<polygon points="633.152,336.157 642.126,347.007 653.499,363.662 655.501,362.338 644.628,345.353 638.157,332.848" fill="#000"/>
<polygon points="608,316 635.3,316 637.8,318.5 637.8,332.3 635.3,334.8 608,334.8 605.5,332.3 605.5,318.5" fill="#000"/>
<polygon points="608.5,318 634.2,318 635.2,319 635.2,331.3 634.2,332.3 608.5,332.3 607.5,331.3 607.5,319" fill="#fff"/>
<polygon points="632.614,331.717 634.821,335.054 640.288,341.509 636.489,333.951 634.283,330.614" fill="#fff"/>
<polygon points="635.495,360.455 642.283,364.98 645.321,367.679 646.679,366.321 643.98,363.283 639.455,356.495" fill="#000"/>
<polygon points="608,341.3 635.3,341.3 637.8,343.8 637.8,357.4 635.3,359.9 608,359.9 605.5,357.4 605.5,343.8" fill="#000"/>
<polygon points="608.5,343.3 634.2,343.3 635.2,344.3 635.2,356.4 634.2,357.4 608.5,357.4 607.5,356.4 607.5,344.3" fill="#fff"/>
<polygon points="634.081,356.212 636.909,359.041 640.869,361.869 638.041,357.909 635.212,355.081" fill="#fff"/>
<polygon points="611.5,374.9 622.5,372.5 628.2,372.26 628.2,370.34 622.5,370.1 611.5,367.7" fill="#000"/>
<polygon points="581.8,361.8 609.3,361.8 611.8,364.3 611.8,378.3 609.3,380.8 581.8,380.8 579.3,378.3 579.3,364.3" fill="#000"/>
<polygon points="582.3,363.8 608.2,363.8 609.2,364.8 609.2,377.3 608.2,378.3 582.3,378.3 581.3,377.3 581.3,364.8" fill="#fff"/>
<polygon points="607.5,372.9 611.5,372.9 618.1,371.3 611.5,369.7 607.5,369.7" fill="#fff"/>
<polygon points="613.25,403.7 624.25,401.3 630,401.06 630,399.14 624.25,398.9 613.25,396.5" fill="#000"/>
<polygon points="581.8,391.5 611.2,391.5 613.7,394 613.7,407.2 611.2,409.7 581.8,409.7 579.3,407.2 579.3,394" fill="#000"/>
<polygon points="582.3,393.5 610.1,393.5 611.1,394.5 611.1,406.2 610.1,407.2 582.3,407.2 581.3,406.2 581.3,394.5" fill="#fff"/>
<polygon points="609.25,401.7 613.25,401.7 619.85,400.1 613.25,398.5 609.25,398.5" fill="#fff"/>
<polygon points="641.999,412.247 648.113,399.564 661.819,376.933 659.781,375.667 645.565,397.981 636.903,409.081" fill="#000"/>
<polygon points="611.7,410.4 639.3,410.4 641.8,412.9 641.8,426.2 639.3,428.7 611.7,428.7 609.2,426.2 609.2,412.9" fill="#000"/>
<polygon points="612.2,412.4 638.2,412.4 639.2,413.4 639.2,425.2 638.2,426.2 612.2,426.2 611.2,425.2 611.2,413.4" fill="#fff"/>
<polygon points="638.19,414.589 640.301,411.192 643.884,403.529 638.602,410.136 636.491,413.534" fill="#fff"/>
<polygon points="663.435,347.075 668.201,356.188 670.169,363.034 672.031,362.566 670.528,355.603 670.418,345.32" fill="#000"/>
<polygon points="651.9,328.4 680.3,328.4 682.8,330.9 682.8,344.1 680.3,346.6 651.9,346.6 649.4,344.1 649.4,330.9" fill="#000"/>
<polygon points="652.4,330.4 679.2,330.4 680.2,331.4 680.2,343.1 679.2,344.1 652.4,344.1 651.4,343.1 651.4,331.4" fill="#fff"/>
<polygon points="664.4,342.708 665.375,346.587 668.389,352.016 668.478,345.807 667.503,341.928" fill="#fff"/>
<polygon points="682.426,352.576 678.383,359.71 676.489,362.155 677.911,363.445 680.161,361.323 686.87,356.608" fill="#000"/>
<polygon points="685.8,337.5 713.5,337.5 716,340 716,352.4 713.5,354.9 685.8,354.9 683.3,352.4 683.3,340" fill="#000"/>
<polygon points="686.3,339.5 712.4,339.5 713.4,340.5 713.4,351.4 712.4,352.4 686.3,352.4 685.3,351.4 685.3,340.5" fill="#fff"/>
<polygon points="686.595,350.958 683.907,353.92 681.422,358.147 685.389,355.264 688.077,352.302" fill="#fff"/>
<polygon points="703.271,365.89 692.257,368.225 688.006,368.44 687.994,370.36 692.243,370.625 703.229,373.09" fill="#000"/>
<polygon points="705.5,360.7 736.5,360.7 739,363.2 739,376 736.5,378.5 705.5,378.5 703,376 703,363.2" fill="#000"/>
<polygon points="706,362.7 735.4,362.7 736.4,363.7 736.4,375 735.4,376 706,376 705,375 705,363.7" fill="#fff"/>
<polygon points="707.259,367.913 703.259,367.89 696.65,369.451 703.241,371.09 707.241,371.113" fill="#fff"/>
<polygon points="674.959,382.258 667.987,377.941 665.272,375.615 663.928,376.985 666.306,379.654 670.758,386.541" fill="#000"/>
<polygon points="673.6,384.1 701.3,384.1 703.8,386.6 703.8,399.8 701.3,402.3 673.6,402.3 671.1,399.8 671.1,386.6" fill="#000"/>
<polygon points="674.1,386.1 700.2,386.1 701.2,387.1 701.2,398.8 700.2,399.8 674.1,399.8 673.1,398.8 673.1,387.1" fill="#fff"/>
<polygon points="676.414,386.486 673.558,383.685 669.431,381.038 672.158,385.113 675.014,387.914" fill="#fff"/>
<polygon points="675.667,409.485 668.701,403.509 665.656,400.008 664.144,401.192 666.812,404.988 670.943,413.184" fill="#000"/>
<polygon points="673.6,411 701.3,411 703.8,413.5 703.8,426.9 701.3,429.4 673.6,429.4 671.1,426.9 671.1,413.5" fill="#000"/>
<polygon points="674.1,413 700.2,413 701.2,414 701.2,425.9 700.2,426.9 674.1,426.9 673.1,425.9 673.1,414" fill="#fff"/>
<polygon points="676.558,413.868 674.092,410.718 669.976,407.083 672.517,411.951 674.983,415.101" fill="#fff"/>
<g style="opacity:.99">
<text transform="translate(413.23,26.8) scale(0.706,1)" font-size="13.3" fill="#000" stroke="#000" stroke-width="0.35">B</text>
<text transform="translate(422.68,26.8) scale(0.726,1)" font-size="13.3" fill="#000" stroke="#000" stroke-width="0.35">A</text>
<text transform="translate(432.28,26.8) scale(0.660,1)" font-size="13.3" fill="#000" stroke="#000" stroke-width="0.35">N</text>
<text transform="translate(441.41,26.8) scale(0.629,1)" font-size="13.3" fill="#000" stroke="#000" stroke-width="0.35">K</text>
<text transform="translate(453.43,26.8) scale(0.858,1)" font-size="13.3" fill="#000" stroke="#000" stroke-width="0.35">2</text>
<text transform="translate(413.23,46.8) scale(0.706,1)" font-size="13.3" fill="#000" stroke="#000" stroke-width="0.35">B</text>
<text transform="translate(422.68,46.8) scale(0.726,1)" font-size="13.3" fill="#000" stroke="#000" stroke-width="0.35">A</text>
<text transform="translate(432.28,46.8) scale(0.660,1)" font-size="13.3" fill="#000" stroke="#000" stroke-width="0.35">N</text>
<text transform="translate(441.41,46.8) scale(0.629,1)" font-size="13.3" fill="#000" stroke="#000" stroke-width="0.35">K</text>
<text transform="translate(454.17,46.8) scale(0.856,1)" font-size="13.3" fill="#000" stroke="#000" stroke-width="0.35">3</text>
<text transform="translate(72.46,90.8) scale(0.678,1)" font-size="13.3" fill="#000" stroke="#000" stroke-width="0.35">B</text>
<text transform="translate(81.08,90.8) scale(0.771,1)" font-size="13.3" fill="#000" stroke="#000" stroke-width="0.35">A</text>
<text transform="translate(89.82,90.8) scale(0.713,1)" font-size="13.3" fill="#000" stroke="#000" stroke-width="0.35">N</text>
<text transform="translate(99.61,90.8) scale(0.721,1)" font-size="13.3" fill="#000" stroke="#000" stroke-width="0.35">K</text>
<text transform="translate(112.58,90.8) scale(0.818,1)" font-size="13.3" fill="#000" stroke="#000" stroke-width="0.35">0</text>
<text transform="translate(195.46,91.6) scale(0.678,1)" font-size="13.3" fill="#000" stroke="#000" stroke-width="0.35">B</text>
<text transform="translate(204.18,91.6) scale(0.760,1)" font-size="13.3" fill="#000" stroke="#000" stroke-width="0.35">A</text>
<text transform="translate(212.71,91.6) scale(0.727,1)" font-size="13.3" fill="#000" stroke="#000" stroke-width="0.35">N</text>
<text transform="translate(222.50,91.6) scale(0.734,1)" font-size="13.3" fill="#000" stroke="#000" stroke-width="0.35">K</text>
<path d="M236.80,85.05 L239.20,82.75 L239.20,91.60" fill="none" stroke="#000" stroke-width="1.15" stroke-linejoin="miter" shape-rendering="geometricPrecision"/>
<text transform="translate(81.00,124.9) scale(0.735,1)" font-size="13.3" fill="#000" stroke="#000" stroke-width="0.35">P</text>
<text transform="translate(89.32,124.9) scale(0.986,1)" font-size="13.3" fill="#000" stroke="#000" stroke-width="0.35">-</text>
<text transform="translate(94.59,124.9) scale(0.786,1)" font-size="13.3" fill="#000" stroke="#000" stroke-width="0.35">0</text>
<text transform="translate(205.30,125) scale(0.735,1)" font-size="13.3" fill="#000" stroke="#000" stroke-width="0.35">P</text>
<text transform="translate(212.22,125) scale(0.986,1)" font-size="13.3" fill="#000" stroke="#000" stroke-width="0.35">-</text>
<path d="M219.50,118.45 L221.90,116.15 L221.90,125.00" fill="none" stroke="#000" stroke-width="1.15" stroke-linejoin="miter" shape-rendering="geometricPrecision"/>
<text transform="translate(324.61,87.7) scale(0.650,1)" font-size="13" fill="#000" stroke="#000" stroke-width="0.35">B</text>
<text transform="translate(332.91,87.7) scale(1.072,1)" font-size="13" fill="#000" stroke="#000" stroke-width="0.35">I</text>
<text transform="translate(337.31,87.7) scale(0.789,1)" font-size="13" fill="#000" stroke="#000" stroke-width="0.35">O</text>
<text transform="translate(346.83,87.7) scale(0.802,1)" font-size="13" fill="#000" stroke="#000" stroke-width="0.35">S</text>
<text transform="translate(355.90,87.7) scale(1.080,1)" font-size="13" fill="#000" stroke="#000" stroke-width="0.35">/</text>
<text transform="translate(359.79,87.7) scale(0.823,1)" font-size="13" fill="#000" stroke="#000" stroke-width="0.35">O</text>
<text transform="translate(370.62,87.7) scale(0.727,1)" font-size="13" fill="#000" stroke="#000" stroke-width="0.35">D</text>
<text transform="translate(380.58,87.7) scale(0.766,1)" font-size="13" fill="#000" stroke="#000" stroke-width="0.35">D</text>
<text transform="translate(320.13,135.7) scale(0.723,1)" font-size="13" fill="#000" stroke="#000" stroke-width="0.35">B</text>
<text transform="translate(328.51,135.7) scale(1.072,1)" font-size="13" fill="#000" stroke="#000" stroke-width="0.35">I</text>
<text transform="translate(333.24,135.7) scale(0.744,1)" font-size="13" fill="#000" stroke="#000" stroke-width="0.35">O</text>
<text transform="translate(342.40,135.7) scale(0.842,1)" font-size="13" fill="#000" stroke="#000" stroke-width="0.35">S</text>
<text transform="translate(350.90,135.7) scale(1.080,1)" font-size="13" fill="#000" stroke="#000" stroke-width="0.35">/</text>
<text transform="translate(355.72,135.7) scale(0.639,1)" font-size="13" fill="#000" stroke="#000" stroke-width="0.35">E</text>
<text transform="translate(364.14,135.7) scale(0.982,1)" font-size="13" fill="#000" stroke="#000" stroke-width="0.35">V</text>
<text transform="translate(375.14,135.7) scale(0.710,1)" font-size="13" fill="#000" stroke="#000" stroke-width="0.35">E</text>
<text transform="translate(383.47,135.7) scale(0.689,1)" font-size="13" fill="#000" stroke="#000" stroke-width="0.35">N</text>
<text transform="translate(219.51,346) scale(0.688,1)" font-size="14" fill="#000" stroke="#000" stroke-width="0.35">C</text>
<text transform="translate(230.11,346) scale(0.684,1)" font-size="14" fill="#000" stroke="#000" stroke-width="0.35">P</text>
<text transform="translate(239.28,346) scale(0.755,1)" font-size="14" fill="#000" stroke="#000" stroke-width="0.35">U</text>
<text transform="translate(305.12,361) scale(0.767,1)" font-size="14" fill="#000" stroke="#000" stroke-width="0.35">N</text>
<text transform="translate(314.11,361) scale(0.684,1)" font-size="14" fill="#000" stroke="#000" stroke-width="0.35">P</text>
<text transform="translate(323.28,361) scale(0.755,1)" font-size="14" fill="#000" stroke="#000" stroke-width="0.35">U</text>
<text transform="translate(650.10,87) scale(0.698,1)" font-size="12.2" fill="#000" stroke="#000" stroke-width="0.35">M</text>
<text transform="translate(659.27,87) scale(0.734,1)" font-size="12.2" fill="#000" stroke="#000" stroke-width="0.35">H</text>
<text transform="translate(667.55,87) scale(0.943,1)" font-size="12.2" fill="#000" stroke="#000" stroke-width="0.35">0</text>
<text transform="translate(675.60,87) scale(0.864,1)" font-size="12.2" fill="#000" stroke="#000" stroke-width="0.35">3</text>
<text transform="translate(682.61,87) scale(0.795,1)" font-size="12.2" fill="#000" stroke="#000" stroke-width="0.35">5</text>
<text transform="translate(688.79,87) scale(0.830,1)" font-size="12.2" fill="#000" stroke="#000" stroke-width="0.35">5</text>
<text transform="translate(633.14,458) scale(0.758,1)" font-size="13.8" fill="#000" stroke="#000" stroke-width="0.35">K</text>
<text transform="translate(642.34,458) scale(0.667,1)" font-size="13.8" fill="#000" stroke="#000" stroke-width="0.35">B</text>
<text transform="translate(650.37,458) scale(0.734,1)" font-size="13.8" fill="#000" stroke="#000" stroke-width="0.35">D</text>
<text transform="translate(37.72,163.4) scale(0.863,1)" font-size="13" fill="#000" stroke="#000" stroke-width="0.35">J</text>
<path d="M46.50,157.06 L48.90,154.76 L48.90,163.40" fill="none" stroke="#000" stroke-width="1.15" stroke-linejoin="miter" shape-rendering="geometricPrecision"/>
<text transform="translate(51.42,163.4) scale(0.925,1)" font-size="13" fill="#000" stroke="#000" stroke-width="0.35">5</text>
<text transform="translate(77.82,173.8) scale(0.863,1)" font-size="13" fill="#000" stroke="#000" stroke-width="0.35">J</text>
<path d="M86.20,167.46 L88.60,165.16 L88.60,173.80" fill="none" stroke="#000" stroke-width="1.15" stroke-linejoin="miter" shape-rendering="geometricPrecision"/>
<text transform="translate(97.42,195.5) scale(0.863,1)" font-size="13" fill="#000" stroke="#000" stroke-width="0.35">J</text>
<text transform="translate(103.47,195.5) scale(0.962,1)" font-size="13" fill="#000" stroke="#000" stroke-width="0.35">2</text>
<text transform="translate(8.82,224.8) scale(0.863,1)" font-size="13" fill="#000" stroke="#000" stroke-width="0.35">J</text>
<text transform="translate(16.64,224.8) scale(0.925,1)" font-size="13" fill="#000" stroke="#000" stroke-width="0.35">3</text>
<text transform="translate(83.62,219) scale(0.863,1)" font-size="13" fill="#000" stroke="#000" stroke-width="0.35">J</text>
<text transform="translate(90.34,219) scale(0.870,1)" font-size="13" fill="#000" stroke="#000" stroke-width="0.35">4</text>
<text transform="translate(57.52,248.3) scale(0.863,1)" font-size="13" fill="#000" stroke="#000" stroke-width="0.35">J</text>
<text transform="translate(64.02,248.3) scale(0.925,1)" font-size="13" fill="#000" stroke="#000" stroke-width="0.35">5</text>
<text transform="translate(129.56,151) scale(0.682,1)" font-size="13" fill="#000" stroke="#000" stroke-width="0.35">W</text>
<path d="M142.50,144.66 L144.90,142.36 L144.90,151.00" fill="none" stroke="#000" stroke-width="1.15" stroke-linejoin="miter" shape-rendering="geometricPrecision"/>
<text transform="translate(157.56,151) scale(0.682,1)" font-size="13" fill="#000" stroke="#000" stroke-width="0.35">W</text>
<text transform="translate(168.24,151) scale(0.925,1)" font-size="13" fill="#000" stroke="#000" stroke-width="0.35">3</text>
<text transform="translate(185.76,151) scale(0.682,1)" font-size="13" fill="#000" stroke="#000" stroke-width="0.35">W</text>
<text transform="translate(195.92,151) scale(0.925,1)" font-size="13" fill="#000" stroke="#000" stroke-width="0.35">5</text>
<text transform="translate(130.06,200.6) scale(0.682,1)" font-size="13" fill="#000" stroke="#000" stroke-width="0.35">W</text>
<text transform="translate(140.37,200.6) scale(0.962,1)" font-size="13" fill="#000" stroke="#000" stroke-width="0.35">2</text>
<text transform="translate(157.76,200.6) scale(0.682,1)" font-size="13" fill="#000" stroke="#000" stroke-width="0.35">W</text>
<text transform="translate(168.04,200.6) scale(0.870,1)" font-size="13" fill="#000" stroke="#000" stroke-width="0.35">4</text>
<text transform="translate(185.86,200.6) scale(0.682,1)" font-size="13" fill="#000" stroke="#000" stroke-width="0.35">W</text>
<text transform="translate(195.77,200.6) scale(0.950,1)" font-size="13" fill="#000" stroke="#000" stroke-width="0.35">6</text>
<text transform="translate(371.96,246) scale(0.748,1)" font-size="13" fill="#000" stroke="#000" stroke-width="0.35">S</text>
<path d="M380.40,239.66 L382.80,237.36 L382.80,246.00" fill="none" stroke="#000" stroke-width="1.15" stroke-linejoin="miter" shape-rendering="geometricPrecision"/>
<text transform="translate(609.06,215.8) scale(0.682,1)" font-size="13" fill="#000" stroke="#000" stroke-width="0.35">W</text>
<text transform="translate(620.52,215.8) scale(0.949,1)" font-size="13" fill="#000" stroke="#000" stroke-width="0.35">9</text>
<text transform="translate(733.66,89.9) scale(0.682,1)" font-size="13" fill="#000" stroke="#000" stroke-width="0.35">W</text>
<text transform="translate(744.17,89.9) scale(0.962,1)" font-size="13" fill="#000" stroke="#000" stroke-width="0.35">2</text>
<text transform="translate(753.04,89.9) scale(0.925,1)" font-size="13" fill="#000" stroke="#000" stroke-width="0.35">3</text>
<text transform="translate(735.62,122.9) scale(0.863,1)" font-size="13" fill="#000" stroke="#000" stroke-width="0.35">J</text>
<path d="M744.70,116.56 L747.10,114.26 L747.10,122.90" fill="none" stroke="#000" stroke-width="1.15" stroke-linejoin="miter" shape-rendering="geometricPrecision"/>
<text transform="translate(749.33,122.9) scale(0.917,1)" font-size="13" fill="#000" stroke="#000" stroke-width="0.35">0</text>
<text transform="translate(735.92,185.6) scale(0.863,1)" font-size="13" fill="#000" stroke="#000" stroke-width="0.35">J</text>
<path d="M744.10,179.26 L746.50,176.96 L746.50,185.60" fill="none" stroke="#000" stroke-width="1.15" stroke-linejoin="miter" shape-rendering="geometricPrecision"/>
<path d="M751.60,179.26 L754.00,176.96 L754.00,185.60" fill="none" stroke="#000" stroke-width="1.15" stroke-linejoin="miter" shape-rendering="geometricPrecision"/>
<text transform="translate(715.02,298.9) scale(0.863,1)" font-size="13" fill="#000" stroke="#000" stroke-width="0.35">J</text>
<text transform="translate(721.17,298.9) scale(0.934,1)" font-size="13" fill="#000" stroke="#000" stroke-width="0.35">8</text>
<text transform="translate(736.82,318.1) scale(0.863,1)" font-size="13" fill="#000" stroke="#000" stroke-width="0.35">J</text>
<path d="M745.90,311.76 L748.30,309.46 L748.30,318.10" fill="none" stroke="#000" stroke-width="1.15" stroke-linejoin="miter" shape-rendering="geometricPrecision"/>
<text transform="translate(749.37,318.1) scale(0.962,1)" font-size="13" fill="#000" stroke="#000" stroke-width="0.35">2</text>
<text transform="translate(732.92,407.8) scale(0.863,1)" font-size="13" fill="#000" stroke="#000" stroke-width="0.35">J</text>
<path d="M741.70,401.46 L744.10,399.16 L744.10,407.80" fill="none" stroke="#000" stroke-width="1.15" stroke-linejoin="miter" shape-rendering="geometricPrecision"/>
<text transform="translate(746.44,407.8) scale(0.925,1)" font-size="13" fill="#000" stroke="#000" stroke-width="0.35">3</text>
<text transform="translate(465.82,333.9) scale(0.863,1)" font-size="13" fill="#000" stroke="#000" stroke-width="0.35">J</text>
<text transform="translate(472.57,333.9) scale(0.950,1)" font-size="13" fill="#000" stroke="#000" stroke-width="0.35">6</text>
<text transform="translate(502.62,351.6) scale(0.863,1)" font-size="13" fill="#000" stroke="#000" stroke-width="0.35">J</text>
<text transform="translate(508.76,351.6) scale(0.965,1)" font-size="13" fill="#000" stroke="#000" stroke-width="0.35">7</text>
<text transform="translate(529.36,457.3) scale(0.682,1)" font-size="13" fill="#000" stroke="#000" stroke-width="0.35">W</text>
<text transform="translate(540.57,457.3) scale(0.934,1)" font-size="13" fill="#000" stroke="#000" stroke-width="0.35">8</text>
<text transform="translate(608.46,328.9) scale(0.682,1)" font-size="13" fill="#000" stroke="#000" stroke-width="0.35">W</text>
<path d="M619.90,322.56 L622.30,320.26 L622.30,328.90" fill="none" stroke="#000" stroke-width="1.15" stroke-linejoin="miter" shape-rendering="geometricPrecision"/>
<text transform="translate(626.84,328.9) scale(0.925,1)" font-size="13" fill="#000" stroke="#000" stroke-width="0.35">3</text>
<text transform="translate(608.46,353.9) scale(0.682,1)" font-size="13" fill="#000" stroke="#000" stroke-width="0.35">W</text>
<path d="M620.40,347.56 L622.80,345.26 L622.80,353.90" fill="none" stroke="#000" stroke-width="1.15" stroke-linejoin="miter" shape-rendering="geometricPrecision"/>
<text transform="translate(626.17,353.9) scale(0.962,1)" font-size="13" fill="#000" stroke="#000" stroke-width="0.35">2</text>
<text transform="translate(583.36,375.6) scale(0.682,1)" font-size="13" fill="#000" stroke="#000" stroke-width="0.35">W</text>
<path d="M596.20,369.26 L598.60,366.96 L598.60,375.60" fill="none" stroke="#000" stroke-width="1.15" stroke-linejoin="miter" shape-rendering="geometricPrecision"/>
<path d="M603.00,369.26 L605.40,366.96 L605.40,375.60" fill="none" stroke="#000" stroke-width="1.15" stroke-linejoin="miter" shape-rendering="geometricPrecision"/>
<text transform="translate(582.56,404) scale(0.682,1)" font-size="13" fill="#000" stroke="#000" stroke-width="0.35">W</text>
<text transform="translate(593.37,404) scale(0.962,1)" font-size="13" fill="#000" stroke="#000" stroke-width="0.35">2</text>
<text transform="translate(601.83,404) scale(0.917,1)" font-size="13" fill="#000" stroke="#000" stroke-width="0.35">0</text>
<text transform="translate(612.66,422.7) scale(0.682,1)" font-size="13" fill="#000" stroke="#000" stroke-width="0.35">W</text>
<path d="M625.80,416.36 L628.20,414.06 L628.20,422.70" fill="none" stroke="#000" stroke-width="1.15" stroke-linejoin="miter" shape-rendering="geometricPrecision"/>
<text transform="translate(630.14,422.7) scale(0.870,1)" font-size="13" fill="#000" stroke="#000" stroke-width="0.35">4</text>
<text transform="translate(652.86,341.1) scale(0.682,1)" font-size="13" fill="#000" stroke="#000" stroke-width="0.35">W</text>
<path d="M665.70,334.76 L668.10,332.46 L668.10,341.10" fill="none" stroke="#000" stroke-width="1.15" stroke-linejoin="miter" shape-rendering="geometricPrecision"/>
<text transform="translate(670.47,341.1) scale(0.950,1)" font-size="13" fill="#000" stroke="#000" stroke-width="0.35">6</text>
<text transform="translate(686.76,349.7) scale(0.682,1)" font-size="13" fill="#000" stroke="#000" stroke-width="0.35">W</text>
<path d="M699.90,343.36 L702.30,341.06 L702.30,349.70" fill="none" stroke="#000" stroke-width="1.15" stroke-linejoin="miter" shape-rendering="geometricPrecision"/>
<text transform="translate(703.96,349.7) scale(0.965,1)" font-size="13" fill="#000" stroke="#000" stroke-width="0.35">7</text>
<text transform="translate(708.36,373) scale(0.682,1)" font-size="13" fill="#000" stroke="#000" stroke-width="0.35">W</text>
<path d="M720.40,366.66 L722.80,364.36 L722.80,373.00" fill="none" stroke="#000" stroke-width="1.15" stroke-linejoin="miter" shape-rendering="geometricPrecision"/>
<text transform="translate(725.27,373) scale(0.934,1)" font-size="13" fill="#000" stroke="#000" stroke-width="0.35">8</text>
<text transform="translate(674.86,397.7) scale(0.682,1)" font-size="13" fill="#000" stroke="#000" stroke-width="0.35">W</text>
<path d="M688.10,391.36 L690.50,389.06 L690.50,397.70" fill="none" stroke="#000" stroke-width="1.15" stroke-linejoin="miter" shape-rendering="geometricPrecision"/>
<text transform="translate(692.02,397.7) scale(0.925,1)" font-size="13" fill="#000" stroke="#000" stroke-width="0.35">5</text>
<text transform="translate(675.06,424.8) scale(0.682,1)" font-size="13" fill="#000" stroke="#000" stroke-width="0.35">W</text>
<text transform="translate(685.37,424.8) scale(0.962,1)" font-size="13" fill="#000" stroke="#000" stroke-width="0.35">2</text>
<text transform="translate(693.37,424.8) scale(0.962,1)" font-size="13" fill="#000" stroke="#000" stroke-width="0.35">2</text>
</g>
</svg>
</body></html>
